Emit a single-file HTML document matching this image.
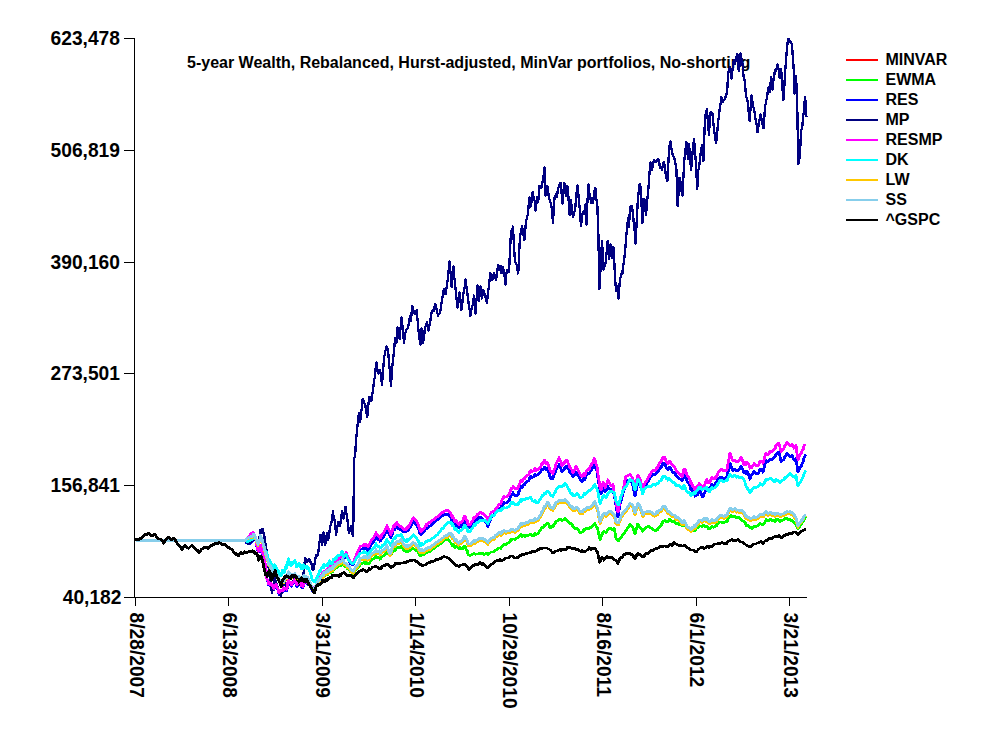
<!DOCTYPE html>
<html lang="en">
<head>
<meta charset="utf-8">
<title>5-year Wealth chart</title>
<style>
html,body{margin:0;padding:0;background:#fff;}
body{width:1000px;height:750px;overflow:hidden;}
svg{display:block;}
svg text{font-family:"Liberation Sans", Arial, Helvetica, sans-serif;font-weight:bold;fill:#000;}
.ax{stroke:#000;stroke-width:1;fill:none;shape-rendering:crispEdges;}
.ln{fill:none;stroke-width:2.8;stroke-linejoin:round;stroke-linecap:butt;shape-rendering:crispEdges;}
.lg{stroke-width:2;fill:none;shape-rendering:crispEdges;}
.yl{font-size:20px;text-anchor:end;}
.xl{font-size:20px;}
.lt{font-size:16px;}
.tt{font-size:16px;}
</style>
</head>
<body>
<svg width="1000" height="750" viewBox="0 0 1000 750">
<rect x="0" y="0" width="1000" height="750" fill="#ffffff"/>
<text class="tt" x="187" y="68">5-year Wealth, Rebalanced, Hurst-adjusted, MinVar portfolios, No-shorting</text>
<polyline class="ln" stroke="#ff0000" points="135.5,540.5 136,540.5 137,540.5 138,540.5 139,540.5 140,540.5 141,540.5 142,540.5 143,540.5 144,540.5 145,540.5 146,540.5 147,540.5 148,540.5 149,540.5 150,540.5 151,540.5 152,540.5 153,540.5 154,540.5 155,540.5 156,540.5 157,540.5 158,540.5 159,540.5 160,540.5 161,540.5 162,540.5 163,540.5 164,540.5 165,540.5 166,540.5 167,540.5 168,540.5 169,540.5 170,540.5 171,540.5 172,540.5 173,540.5 174,540.5 175,540.5 176,540.5 177,540.5 178,540.5 179,540.5 180,540.5 181,540.5 182,540.5 183,540.5 184,540.5 185,540.5 186,540.5 187,540.5 188,540.5 189,540.5 190,540.5 191,540.5 192,540.5 193,540.5 194,540.5 195,540.5 196,540.5 197,540.5 198,540.5 199,540.5 200,540.5 201,540.5 202,540.5 203,540.5 204,540.5 205,540.5 206,540.5 207,540.5 208,540.5 209,540.5 210,540.5 211,540.5 212,540.5 213,540.5 214,540.5 215,540.5 216,540.5 217,540.5 218,540.5 219,540.5 220,540.5 221,540.5 222,540.5 223,540.5 224,540.5 225,540.5 226,540.5 227,540.5 228,540.5 229,540.5 230,540.5 231,540.5 232,540.5 233,540.5 234,540.5 235,540.5 236,540.5 237,540.5 238,540.5 239,540.5 240,540.5 241,540.5 242,540.5 243,540.5 244,540.5 245,540.5 246,539.7 247,538.9 247.5,538.4 248,538.2 249,538.2 250,537.9 251,537.5 252,537.5 252.5,537.2 253,536.2 253.5,535.2 253.8,535.9 254,535.9 254.5,536.7 255,537.3 255.5,539 255.9,540.1 256,539.9 256.5,541.5 257,543.1 257.5,543.3 258,545.5 258.5,543.8 259,543.4 259.5,541.3 260,540.9 260.1,539.7 260.5,536.7 261,537.6 261.5,539.5 262,540.8 262.5,541.8 263,544 263.5,546.6 264,548.1 264.3,548.2 264.5,550.2 265,552 265.5,553.3 266,556.1 266.4,556.8 266.5,556.4 267,560.3 267.5,560 268,562.5 268.5,565.2 269,565.5 269.5,565.8 270,567.6 270.5,567.4 270.6,567.2 271,567.6 271.5,570 272,572.3 272.5,574.3 272.7,574.4 273,573.1 273.5,574.7 274,574.7 274.5,572.5 274.8,571.4 275,572.3 275.5,572.8 276,575.8 276.5,575.5 276.9,577.1 277,577.6 277.5,577.3 278,577.4 278.5,579.4 279,580.2 279.5,581.1 280,581.1 280.5,583.2 281,583.8 281.1,583.9 281.5,583.6 282,584.3 282.5,583.7 283,581.3 283.2,581 283.5,583.2 284,581.3 284.5,581.2 285,579.5 285.3,579.5 285.5,579.2 286,576.8 286.5,579.2 287,579.2 287.4,576.5 287.5,576 288,574.2 288.5,572.9 289,575.1 289.5,573.9 290,574.8 290.5,575.6 291,576.7 291.5,576.8 291.6,577.7 292,577.4 292.5,575.6 293,576.1 293.5,576.4 294,576.3 294.4,575.4 294.5,575.4 295,575 295.5,576.3 296,576.4 296.5,579 297,579.3 297.2,578.7 297.5,578.6 298,578 298.5,577.7 299,577.4 299.5,578 300,578.9 300.5,579.3 301,579.4 301.5,581 302,578.5 302.5,578.3 302.8,579.4 303,581.1 303.5,577.1 304,577 304.5,577.6 305,577.8 305.5,578 305.6,577.7 306,577.9 306.5,579 307,579.4 307.5,580.7 308,578.9 308.4,580.4 308.5,579.7 309,581.7 309.5,582 310,582.7 310.5,585.3 311,585.6 311.2,586.4 311.5,587.4 312,588.6 312.5,589.1 313,589.9 313.5,590.2 314,590.3 314.5,589.4 315,589 315.5,587.4 316,586.6 316.1,586.5 316.5,586.2 317,583.9 317.5,583.7 318,583.9 318.2,582.4 318.5,581.5 319,580.9 319.5,580 320,580.8 320.5,579.6 321,578.6 321.5,577.5 322,577.1 322.5,576.7 323,574.7 323.5,576.4 323.8,575.8 324,576.2 324.5,573.6 325,574.4 325.5,573.7 326,573.6 326.5,573.1 326.6,572.8 327,571.4 327.5,571.6 328,572.9 328.5,571.5 329,570.6 329.4,570.7 329.5,569.8 330,569.2 330.5,569.9 331,570.8 331.5,569.8 332,569 332.2,568.6 332.5,570 333,568.2 333.5,567.4 334,567.7 334.5,567.7 335,566.8 335.5,565.5 336,565.9 336.5,565.6 337,564.2 337.5,564.1 337.8,564 338,563.6 338.5,564 339,563.6 339.5,563.3 340,562.9 340.6,563 341,563.3 342,561.5 342.7,559.9 343,560.6 344,563.5 344.8,564.2 345,564.4 346,564.7 347,566 347.6,567 348,566.9 349,568 350,569.1 350.4,569.9 351,570.4 352,571.5 353,571.9 353.2,572.4 354,571.3 355,569.2 355.3,568.3 356,567.5 357,566.1 357.4,566.1 358,565.1 359,564.1 359.5,563.7 360,560 361,559.3 362,559.2 363,558.6 364,557.4 365,558.7 366,557.9 367,558.5 368,559.4 369,558.6 370,556.9 371,555.7 372,555.2 373,554.1 374,553.6 375,552.6 376,551 377,552.4 378,553.2 379,552.7 380,554.4 381,553.5 382,551.4 383,551.2 384,550.3 385,549.6 386,548.2 387,546.9 388,550.7 389,552.5 390,555.2 391,552.9 392,549.4 393,545.2 394,544.8 395,545.8 396,543.4 397,543 398,543.1 399,542.5 400,541.9 401,540.9 402,542.3 403,544.4 404,545.9 405,547.3 406,547.8 407,546.1 408,548.1 409,546.1 410,546.4 411,545.4 412,544.8 413,544 413.6,543.9 414,544.3 415,544.9 416,546.4 417,547 418,548.3 419,549.6 420,551.7 421,552.2 422,550.5 423,551.5 424,551.7 425,551.2 426,549.4 427,550.3 428,549.1 429,548.3 430,548.6 431,547.8 432,547.1 433,546.1 434,546 435,544.1 436,543.8 437,543.4 438,542.6 439,541.8 440,541.4 441,540.2 442,539.2 443,539.2 444,538.2 445,537.1 446,536.9 447,536.8 447.4,536.6 448,535.8 449,534.9 450,534.9 451,534.2 452,537.4 453,536.9 454,539.2 455,541.6 456,540.9 457,542 458,544.1 459,544.4 460,542.5 461,543 462,542.1 463,541 464,537.7 465,537.3 466,539.9 467,540.9 468,544.7 469,545.1 470,545.2 471,544.8 472,543.8 473,543.2 474,541.6 475,542.5 476,541.7 477,541.1 478,540.9 479,540 480,539.8 480.6,539.3 481,539.5 482,540.1 483,539.9 484,541 485,540.8 486,541.5 487,542.2 488,543.5 489,541.9 490,541.3 491,539.5 492,539.1 493,538.9 494,538.5 495,537 496,536.1 497,535.5 498,534.6 499,534 500,534.3 501,535 502,532.7 503,532.8 504,531.8 505,532.4 506,532.5 507,532.3 508,532.2 509,532.3 510,531.9 511,530.1 512,531.3 513,531 514,531.3 515,531.6 516,530.4 517,530.2 518,529.9 519,527.6 520,526.8 521,524.7 522,526.2 523,524.8 524,524.5 525,524.5 526,523.3 527,523.5 528,523.5 529,523.3 530,521.6 531,521.2 532,522.1 533,522.3 534,521.2 535,519.6 536,520.8 537,520.2 538,519.5 539,518.3 540,516.8 541,515.2 542,512.2 543,511.3 544,508.7 544.4,507.4 545,507.6 546,506.6 547,503.7 548,503.6 549,505.2 550,508 551,509.3 552,508.8 553,509.8 554,507 555,506.5 556,503.7 557,503.4 558,502.9 559,501.9 560,501.9 561,501.2 562,501.9 563,501.5 564,501.6 565,500.3 566,501.2 567,502.6 568,504.2 569,505 570,506.7 571,508 572,507.9 573,509.5 574,510 575,510.3 576,509 577,508.2 578,510 579,510.9 580,513.3 581,513.2 582,513 583,512.7 584,510.1 585,510.6 586,509.6 587,508.9 588,508.9 589,508.9 590,508.1 591,508.3 592,506.3 593,505.6 594,503.9 595,502.9 596,506.3 597,507.9 598,511.6 599,517.6 600,522.9 601,520.1 602,517.8 603,515.5 604,514.4 605,515 606,516.2 607,515 608,513.1 609,512.5 610,512.4 611,512.8 612,513.6 613,514.8 614,515.4 615,518.2 616,523 617,523.4 618,524.2 618.4,524.1 619,522.7 620,520.2 621,517.3 622,516 623,513.3 624,513.3 625,511.4 626,510.7 627,509.4 628,507.5 629,506.4 630,504.8 631,505.2 632,505.3 633,506.9 634,511 635,514.2 636,510.6 637,507.6 637.4,505.1 638,504.5 639,506.7 640,506.9 641,510.4 642,513.1 642.4,515.3 643,515.6 644,513.9 645,513.2 646,513.2 647,512.8 648,512.4 649,512.7 650,512.7 651,513.1 652,514 653,514.4 654,515.1 655,515.4 656,514.7 657,512.6 658,513.4 659,511.6 660,511.2 661,510.9 662,509.3 663,507.2 664,507.1 665,507.7 666,510.2 667,510.9 668,513 669,512.1 670,513.9 671,514.6 672,515.2 673,516.3 674,516.1 675,516.9 676,518.5 677,519.3 678,518.9 679,519.9 680,521.1 681,522 682,524.1 683,524.3 684,521.6 685,523.4 686,525.6 687,527.7 688,528.5 689,528.5 690,529.1 691,531.3 692,528.4 693,528.9 694,527 695,527.7 696,525.7 697,524.2 698,524.1 699,521.4 700,521.1 701,521.2 702,521.7 703,520.3 704,520 705,520.4 706,519.5 707,519.5 708,522.1 709,523.2 710,523.3 711,521 712,521 713,521.8 714,522 715,522 716,520.5 717,520.6 718,518.2 719,517.6 720,516.6 721,516.4 722,516.6 723,517.3 724,517.5 725,516.9 726,516.3 727,516.4 728,513.2 729,511.4 730,509.3 731,509.8 732,511 733,510.5 734,510.1 735,509.8 736,511.1 737,511.4 738,511.1 739,511.6 740,511.4 741,511.4 742,511.2 743,512.5 744,513.7 745,515.6 746,518.2 747,517.5 748,518.9 749,518.7 750,520.3 751,519.1 752,519.4 753,518.7 754,517.7 755,519.1 756,518.9 757,518.3 758,517.8 759,517.3 760,515.9 761,516.2 762,515.7 763,516.3 764,515.4 765,513.9 766,512.6 767,513.9 768,514.9 769,514.3 770,513.3 771,513.5 772,514.4 773,514.3 774,514.4 775,515.4 776,514.2 777,515.3 778,514.7 779,515.2 780,516 781,515.3 782,515.3 783,515.2 784,515.2 785,513.7 786,514.3 787,513 788,513.1 789,513.2 790,512.2 791,513.1 792,512.8 793,514 794,514.8 795,517.2 796,518.1 797,522.9 798,526.5 799,524.3 800,522.6 801,522.1 802,520.2 803,519.9 804,516.8 805,516.1 806,515.5"/>
<polyline class="ln" stroke="#00ff00" points="135.5,540.5 136,540.5 137,540.5 138,540.5 139,540.5 140,540.5 141,540.5 142,540.5 143,540.5 144,540.5 145,540.5 146,540.5 147,540.5 148,540.5 149,540.5 150,540.5 151,540.5 152,540.5 153,540.5 154,540.5 155,540.5 156,540.5 157,540.5 158,540.5 159,540.5 160,540.5 161,540.5 162,540.5 163,540.5 164,540.5 165,540.5 166,540.5 167,540.5 168,540.5 169,540.5 170,540.5 171,540.5 172,540.5 173,540.5 174,540.5 175,540.5 176,540.5 177,540.5 178,540.5 179,540.5 180,540.5 181,540.5 182,540.5 183,540.5 184,540.5 185,540.5 186,540.5 187,540.5 188,540.5 189,540.5 190,540.5 191,540.5 192,540.5 193,540.5 194,540.5 195,540.5 196,540.5 197,540.5 198,540.5 199,540.5 200,540.5 201,540.5 202,540.5 203,540.5 204,540.5 205,540.5 206,540.5 207,540.5 208,540.5 209,540.5 210,540.5 211,540.5 212,540.5 213,540.5 214,540.5 215,540.5 216,540.5 217,540.5 218,540.5 219,540.5 220,540.5 221,540.5 222,540.5 223,540.5 224,540.5 225,540.5 226,540.5 227,540.5 228,540.5 229,540.5 230,540.5 231,540.5 232,540.5 233,540.5 234,540.5 235,540.5 236,540.5 237,540.5 238,540.5 239,540.5 240,540.5 241,540.5 242,540.5 243,540.5 244,540.5 245,540.5 246,539.9 247,539.2 247.5,538.8 248,538.5 249,538.2 250,537.7 251,537 252,537 252.5,536.7 253,535.7 253.5,534.7 253.8,535.4 254,535.4 254.5,536.2 255,536.8 255.5,538.5 255.9,539.6 256,539.4 256.5,541 257,542.6 257.5,542.8 258,545 258.5,543.3 259,542.9 259.5,540.8 260,540.4 260.1,539.2 260.5,536.2 261,537.1 261.5,539 262,540.3 262.5,541.3 263,543.5 263.5,546.1 264,547.6 264.3,547.7 264.5,549.7 265,551.5 265.5,552.8 266,555.6 266.4,556.3 266.5,555.9 267,559.8 267.5,559.5 268,562 268.5,564.7 269,565 269.5,565.3 270,567.1 270.5,566.9 270.6,566.7 271,567.1 271.5,569.5 272,571.8 272.5,573.8 272.7,573.9 273,572.6 273.5,574.2 274,574.2 274.5,572 274.8,570.9 275,571.8 275.5,572.3 276,575.4 276.5,575 276.9,576.6 277,577.1 277.5,576.8 278,576.9 278.5,578.9 279,579.7 279.5,580.6 280,580.6 280.5,582.7 281,583.3 281.1,583.4 281.5,583.1 282,583.8 282.5,583.2 283,580.8 283.2,580.5 283.5,582.7 284,580.8 284.5,580.7 285,579 285.3,579 285.5,578.7 286,576.3 286.5,578.7 287,578.7 287.4,576 287.5,575.5 288,573.7 288.5,572.4 289,574.6 289.5,573.4 290,574.3 290.5,575.1 291,576.2 291.5,576.3 291.6,577.2 292,576.9 292.5,575.1 293,575.6 293.5,575.9 294,575.8 294.4,574.9 294.5,574.9 295,574.5 295.5,575.8 296,575.9 296.5,578.5 297,578.8 297.2,578.2 297.5,578.1 298,577.5 298.5,577.2 299,576.9 299.5,577.5 300,578.4 300.5,578.8 301,578.9 301.5,580.5 302,578 302.5,577.8 302.8,578.9 303,580.6 303.5,576.6 304,576.5 304.5,577.1 305,577.3 305.5,577.5 305.6,577.2 306,577.4 306.5,578.5 307,578.9 307.5,580.2 308,578.3 308.4,579.9 308.5,579.2 309,581.2 309.5,581.5 310,582.2 310.5,584.8 311,585.1 311.2,585.9 311.5,586.9 312,588.1 312.5,588.6 313,589.5 313.5,589.7 314,589.8 314.5,589 315,588.7 315.5,587.2 316,586.5 316.1,586.4 316.5,586.2 317,584 317.5,583.8 318,584.1 318.2,582.6 318.5,581.7 319,581.2 319.5,580.3 320,581.1 320.5,580 321,579.1 321.5,578 322,577.7 322.5,577.4 323,575.5 323.5,577.2 323.8,576.7 324,577.1 324.5,574.6 325,575.5 325.5,574.8 326,574.8 326.5,574.4 326.6,574.1 327,572.7 327.5,573 328,574.3 328.5,573.1 329,572.2 329.4,572.3 329.5,571.4 330,570.9 330.5,571.5 331,572.4 331.5,571.4 332,570.6 332.2,570.2 332.5,571.6 333,569.9 333.5,569.1 334,569.5 334.5,569.5 335,568.7 335.5,567.5 336,567.9 336.5,567.7 337,566.4 337.5,566.4 337.8,566.3 338,565.9 338.5,566.3 339,565.9 339.5,565.6 340,565.2 340.6,565.3 341,565.7 342,564.2 342.7,562.9 343,563.5 344,566.1 344.8,566.5 345,566.7 346,566.8 347,568 347.6,568.9 348,568.7 349,569.8 350,570.8 350.4,571.5 351,571.8 352,572.7 353,572.8 353.2,573.3 354,572.5 355,570.7 355.3,569.9 356,569.4 357,568.3 357.4,568.3 358,567.5 359,566.6 359.5,566.3 360,563.8 361,563.4 362,563.4 363,563.1 364,562.2 365,563.5 366,562.7 367,563.3 368,564.1 369,563.4 370,561.8 371,560.5 372,560 373,558.9 374,558.4 375,557.4 376,555.8 377,557.2 378,557.9 379,557.6 380,559.2 381,558.3 382,556.2 383,556 384,555.1 385,554.4 386,553 387,551.7 388,554.1 389,554.6 390,556 391,555 392,552.8 393,550 394,549.6 395,550.6 396,548.2 397,547.8 398,548.1 399,547.8 400,547.4 401,546.7 402,547.6 403,549.2 404,550.2 405,551.1 406,551.5 407,549.9 408,551.9 409,549.9 410,550.4 411,549.6 412,549.2 413,548.7 413.6,548.7 414,549 415,549.3 416,550.5 417,550.8 418,552.1 419,553.4 420,555.5 421,556 422,554.1 423,554.8 424,554.7 425,554 426,552.3 427,553.1 428,551.9 429,551.1 430,551.3 431,550.5 432,549.9 433,548.9 434,548.8 435,546.9 436,546.6 437,546.2 438,545.4 439,544.6 440,544.2 441,543 442,542.1 443,542 444,541 445,539.9 446,539.8 447,539.6 447.4,539.4 448,539.6 449,540.3 450,542 451,543 452,545.4 453,544.4 454,546 455,547.6 456,546.2 457,546.6 458,547.9 459,549 460,547.8 461,549 462,548.9 463,548.4 464,545.9 465,546.1 466,548.9 467,550.2 468,554.2 469,554.9 470,555.2 471,555.1 472,554.3 473,554 474,553 475,554.2 476,554 477,553.9 478,553.9 479,553.4 480,553.4 480.6,553.1 481,553.3 482,553.9 483,553.8 484,554.8 485,554 486,553.8 487,553.7 488,554.3 489,553.2 490,553.1 491,551.9 492,551.9 493,551.9 494,551.7 495,550.5 496,549.9 497,549.3 498,548.5 499,547.9 500,548.1 501,548.4 502,546 503,545.9 504,544.6 505,544.7 506,544.3 507,543.6 508,543 509,542.5 510,541.5 511,539.2 512,539.7 513,538.9 514,539.1 515,539.3 516,538.2 517,538 518,538.1 519,536.4 520,536.1 521,534.5 522,536.4 523,535.6 524,535.8 525,536.3 526,535.2 527,535.4 528,535.3 529,535.1 530,534 531,534.1 532,535.4 533,536.1 534,535.1 535,533.5 536,534.6 537,534 538,533.3 539,532 540,530.6 541,529 542,527.2 543,527.4 544,526 544.4,525.2 545,525.6 546,525.2 547,523 548,523.4 549,525.1 550,527.8 551,528 552,526.6 553,526.5 554,524.2 555,523.8 556,521.5 557,521.2 558,520.6 559,519.8 560,520.1 561,519.7 562,520.6 563,519.9 564,519.7 565,518 566,519 567,520.4 568,522 569,522.2 570,523.2 571,523.8 572,524.4 573,526.7 574,527.9 575,528.7 576,528.1 577,528 578,529.8 579,530.8 580,533.1 581,532.6 582,532.2 583,531.5 584,529.2 585,529.5 586,528.4 587,528.1 588,528.4 589,528.6 590,527.8 591,527.9 592,526.1 593,525.7 594,524.4 595,523.7 596,526.4 597,527.4 598,530.3 599,535.3 600,539.6 601,536.9 602,534.6 603,532.3 604,531.3 605,531.9 606,533 607,531.4 608,529.2 609,528.3 610,528.2 611,528.6 612,529.3 613,529.1 614,528.2 615,532.6 616,538.8 617,539.6 618,540.8 618.4,540.9 619,540.2 620,538.8 621,537.1 622,536.1 623,533.9 624,534.1 625,531.9 626,530.9 627,529.2 628,527.3 629,526.1 630,524.5 631,525.3 632,525.9 633,527.7 634,531.2 635,534 636,529.9 637,526.5 637.4,523.9 638,523.9 639,526.7 640,527.7 641,529.1 642,529.8 642.4,531.1 643,531.1 644,529.1 645,528 646,527.7 647,526.9 648,526.2 649,526.8 650,527.2 651,527.9 652,528.8 653,529.2 654,529.9 655,530.8 656,530.7 657,529.4 658,529.4 659,527.1 660,526 661,525.4 662,523.5 663,521.4 664,520.9 665,520.6 666,521.9 667,521.8 668,522.1 669,519.6 670,519.7 671,520.4 672,521 673,522.1 674,521.6 675,522 676,523.3 677,524.1 678,523.7 679,524.7 680,524.9 681,524.8 682,525.9 683,526.1 684,523.4 685,525.2 686,527.1 687,528.8 688,529.3 689,529.3 690,529.9 691,532.1 692,529.8 693,531 694,529.8 695,530.5 696,528.5 697,527 698,527.6 699,525.6 700,525.9 701,526 702,526.5 703,525.1 704,525.4 705,526.5 706,526.3 707,526 708,528.2 709,529 710,529.1 711,526.9 712,526.8 713,527.2 714,527.1 715,526.8 716,525.4 717,525.4 718,523 719,522.7 720,521.9 721,522 722,522.4 723,522.8 724,522.8 725,522 726,521.1 727,521.7 728,519 729,517.8 730,516.6 731,515.1 732,516.8 733,516.9 734,516.8 735,516.3 736,517.4 737,517.9 738,517.6 739,517.2 740,518.8 741,519.6 742,520.2 743,520.9 744,521.5 745,522.3 746,525.4 747,525.1 748,525.8 749,526.3 750,528.1 751,527.4 752,528.2 753,527.2 754,525.9 755,526.9 756,526.7 757,526.1 758,525.6 759,525.1 760,523.7 761,524 762,524 763,525.1 764,523.7 765,521.7 766,519.8 767,520.4 768,520.7 769,520.2 770,519.2 771,519.3 772,520.5 773,520.8 774,521.2 775,521.5 776,519.6 777,520.1 778,519.8 779,520.7 780,521.8 781,520.8 782,520.4 783,520 784,519.9 785,518.5 786,519.1 787,518.5 788,519.3 789,520 790,519.2 791,520.3 792,520.2 793,521.4 794,522.2 795,523.6 796,523.5 797,526.8 798,528.9 799,527.3 800,526 801,525 802,522.6 803,522.2 804,519.2 805,518 806,516.9"/>
<polyline class="ln" stroke="#0000ff" points="135.5,540.5 136,540.5 137,540.5 138,540.5 139,540.5 140,540.5 141,540.5 142,540.5 143,540.5 144,540.5 145,540.5 146,540.5 147,540.5 148,540.5 149,540.5 150,540.5 151,540.5 152,540.5 153,540.5 154,540.5 155,540.5 156,540.5 157,540.5 158,540.5 159,540.5 160,540.5 161,540.5 162,540.5 163,540.5 164,540.5 165,540.5 166,540.5 167,540.5 168,540.5 169,540.5 170,540.5 171,540.5 172,540.5 173,540.5 174,540.5 175,540.5 176,540.5 177,540.5 178,540.5 179,540.5 180,540.5 181,540.5 182,540.5 183,540.5 184,540.5 185,540.5 186,540.5 187,540.5 188,540.5 189,540.5 190,540.5 191,540.5 192,540.5 193,540.5 194,540.5 195,540.5 196,540.5 197,540.5 198,540.5 199,540.5 200,540.5 201,540.5 202,540.5 203,540.5 204,540.5 205,540.5 206,540.5 207,540.5 208,540.5 209,540.5 210,540.5 211,540.5 212,540.5 213,540.5 214,540.5 215,540.5 216,540.5 217,540.5 218,540.5 219,540.5 220,540.5 221,540.5 222,540.5 223,540.5 224,540.5 225,540.5 226,540.5 227,540.5 228,540.5 229,540.5 230,540.5 231,540.5 232,540.5 233,540.5 234,540.5 235,540.5 236,540.5 237,540.5 238,540.5 239,540.5 240,540.5 241,540.5 242,540.5 243,540.5 244,540.5 245,540.5 246,541.9 246.8,543.1 247,543.1 248,543.2 249,543.6 249.6,543.8 250,543.3 251,541.9 252,541.4 252.4,540.7 252.5,540.9 253,539.8 253.5,538.7 254,538.7 254.5,538.2 255,537.4 255.2,538 255.5,539.3 256,541.6 256.5,544.4 257,547.4 257.3,548.2 257.5,548.3 258,551.5 258.5,550.4 259,551.9 259.4,551.4 259.5,551.5 260,551.4 260.5,546.6 261,546.1 261.5,546.8 262,549.3 262.5,553.5 263,553.5 263.5,555.8 263.6,554.8 264,558 264.5,561.1 265,563.5 265.5,565.5 265.7,566.6 266,570.2 266.5,573.5 267,580.4 267.1,580.9 267.5,580.3 268,581.7 268.5,584.5 269,583.6 269.2,583.5 269.5,583.8 270,585.3 270.5,585.1 271,584.5 271.3,585.4 271.5,585.7 272,586.9 272.5,587.9 273,587.2 273.4,588.8 273.5,589.6 274,589.7 274.5,587.9 275,587.1 275.5,585.9 276,586.9 276.2,585.9 276.5,586.1 277,588.4 277.5,589 278,590.1 278.5,592.7 279,594.3 279.5,593.8 280,592.3 280.5,592.9 281,592 281.5,591.6 281.8,591.6 282,592.3 282.5,591.9 283,589.9 283.5,591.5 283.9,589.2 284,589.8 284.5,590.5 285,589.7 285.5,590.4 286,590.3 286.5,590.6 287,589.7 287.5,585.9 288,583.3 288.5,581.3 288.8,582.8 289,583.3 289.5,583.3 290,584.2 290.5,584.8 291,585.7 291.5,585.5 291.6,586.3 292,585.6 292.5,583.5 293,583.4 293.5,583.1 294,582.5 294.4,581.2 294.5,581.3 295,581.2 295.5,582.7 296,583.1 296.5,585.7 297,586.3 297.2,585.9 297.5,585.6 298,584.6 298.5,583.9 299,583.3 299.5,583.5 300,584 300.5,584.8 301,585.2 301.5,587.1 302,585.1 302.5,585.3 302.8,586.5 303,587.9 303.5,583.7 304,583.1 304.5,583.2 305,582.8 305.5,582.5 305.6,582.1 306,582.1 306.5,582.9 307,583.1 307.5,584.2 308,582.1 308.4,583.4 308.5,582.7 309,584.4 309.5,584.5 310,585 310.5,587.3 311,587.3 311.2,588 311.5,589 312,590.1 312.5,590.5 313,591.2 313.3,591.1 313.5,590.9 314,589.1 314.5,589.4 315,589.5 315.4,588.8 315.5,588.2 316,586.9 316.5,586.2 317,583.5 317.5,582.7 318,583.5 318.5,581.1 319,580.3 319.5,579.2 319.6,579.1 320,579.9 320.5,578.7 321,578.4 321.5,576.5 322,576 322.4,575.6 322.5,575.5 323,573.5 323.5,575.2 324,575 324.5,572.4 325,573.2 325.2,572.9 325.5,572.5 326,572.6 326.5,572.2 327,570.4 327.5,570.5 328,571.1 328.5,570 329,568.6 329.5,567.5 330,566.8 330.5,567.3 330.8,567.7 331,568.2 331.5,567.3 332,566.6 332.5,567.5 333,565.5 333.5,564.4 333.6,564.5 334,564.7 334.5,564.7 335,563.5 335.5,562.8 336,563.4 336.4,563.3 336.5,563.3 337,561.9 337.5,561.8 338,561.2 338.5,561.3 339,560.7 339.2,560.5 339.5,560.1 340,559.3 341,559.3 342,557.3 343,557.4 344,558.7 344.1,558.2 345,556.6 346,554.5 346.2,554.7 347,556.7 348,559.2 348.3,560.1 349,561.2 350,562.8 350.4,563.8 351,564 352,564.6 353,564.4 353.2,564.9 354,563.3 355,560.5 355.3,559.4 356,557.7 357,554.9 357.4,554.4 358,553 359,551.3 359.5,550.6 360,549.8 361,549.1 362,549 363,548.4 364,547.3 365,548.8 366,548.2 367,549 368,550.2 369,549 370,546.7 371,544.9 372,544 373,542.2 374,541 375,539.2 376,536.7 377,538.5 378,539.5 379,539.2 380,541.2 381,540.4 382,538.1 383,538 384,536.2 385,534.5 386,532 387,529.7 388,532.6 389,533.5 390,535.4 391,537.5 392,534.9 393,531.1 394,528 395,529.5 396,527 397,526.8 398,528.2 399,528.8 400,529.4 401,529.7 402,530 403,531.2 404,531.8 405,532.2 406,531.9 407,529.4 408,530.9 409,527.9 410,527.4 411,525.5 412,523.9 413,522.3 413.6,521.7 414,522.2 415,523 416,524.9 417,525.7 418,528 419,530.3 420,533.6 421,535 422,532.1 423,532.3 424,531.5 425,530 426,527.8 427,528.7 428,527.2 429,526.2 430,526.2 431,525.1 432,524.2 433,522.9 434,522.9 435,520.8 436,520.6 437,520.2 438,519.2 439,518.1 440,517.5 441,516 442,515.3 443,515.7 444,515 445,514.1 446,514.3 447,514.6 447.4,514.4 448,514.6 449,515.3 450,517 451,517.9 452,521.3 453,520.7 454,523 455,525.3 456,524.1 457,525 458,526.9 459,527.6 460,525.7 461,526.5 462,525.9 463,524.5 464,520.7 465,520.1 466,522.8 467,523.6 468,527.7 469,527.9 470,527.6 471,526.7 472,525.1 473,524 474,521.5 475,521.8 476,520.3 477,518.8 478,518.7 479,517.8 480,517.7 480.6,517.1 481,517.6 482,518.8 483,519.1 484,520.7 485,521.3 486,522.7 487,524.1 488,526.4 489,523.2 490,521.1 491,517.7 492,515.8 493,515.5 494,514.9 495,513.1 496,511.9 497,510.8 498,509.3 499,508.2 500,508.1 501,508.2 502,504.9 503,504.4 504,502.5 505,503 506,502.9 507,502.3 508,502.1 509,500.5 510,498.5 511,494.8 512,494.7 513,492.8 514,494.2 515,495.5 516,495.2 517,496.1 518,494.9 519,491.4 520,489.7 521,486.3 522,487.8 523,485.7 524,484.8 525,484.3 526,482.2 527,481.8 528,481 529,480.1 530,477.5 531,476.6 532,477.3 533,477.2 534,475.9 535,473.9 536,475.6 537,475 538,474.8 539,473.7 540,472.4 541,471 542,469 543,469.7 544,468.2 544.4,467.3 545,468.8 546,469.8 547,468.4 548,470.5 549,473 550,476.7 551,478.3 552,477.6 553,478.6 554,474.8 555,473.5 556,469.6 557,468.3 558,466.7 559,464.7 560,467.1 561,468.6 562,471.8 563,470.4 564,469.6 565,467.1 566,466.1 567,465.9 568,468.5 569,470 570,472.9 571,473.6 572,474.5 573,477 574,474.9 575,474.6 576,472.1 577,473.6 578,475.5 579,476.7 580,478.9 581,480.3 582,481.9 583,479.8 584,478.2 585,479.7 586,475.8 587,474.6 588,473 589,474.1 590,471.7 591,470.7 592,468.9 593,467.5 594,465.2 594.4,464.5 595,465.5 596,469.2 597,470.7 598,478.6 599,484.4 600,491 601,494.1 602,491.3 603,488.4 604,488.7 605,491.6 606,490.3 607,488.8 608,486.8 609,488.8 610,488.9 611,490 612,490.1 613,488.3 614,494.6 615,499.6 616,505.1 617,511.1 618,517.1 619,510.6 620,504.1 621,500.9 622,497.5 623,493.5 624,490.2 625,485.5 626,482.1 627,481.9 628,480.5 629,480.3 630,479.6 631,481.3 632,482.7 633,485.6 634,491.3 635,496 636,491.1 637,487 637.4,483.9 638,482.7 639,484.3 640,483.6 641,488 642,491.5 642.4,494.1 643,493.3 644,489.6 645,487 646,485.4 647,483.3 648,481.3 649,479.9 650,478.1 651,476.9 652,476.1 653,474.8 654,473.9 655,474.5 656,473.9 657,471.6 658,471.9 659,469.1 660,468 661,467.6 662,465.6 663,463 664,462.9 665,464 666,467.4 667,468.7 668,469.6 669,467 670,467.6 671,469.3 672,470.9 673,473.1 674,472.7 675,473.5 676,475.4 677,476.9 678,476.8 679,478.6 680,479.1 681,479.2 682,480.9 683,479.5 684,474.5 685,475.3 686,478.3 687,481.1 688,482.4 689,483.8 690,486 691,490.1 692,489.5 693,493.1 694,493.8 695,496.2 696,495.3 697,495 698,494.4 699,490.8 700,489.9 701,492.7 702,496 703,497.1 704,494.1 705,492.1 706,488.4 707,487.4 708,489.6 709,490 710,489.3 711,485.7 712,484.8 713,485.3 714,485.2 715,484.8 716,482.6 717,482.4 718,479 719,478.4 720,477.2 721,477.2 722,477.5 723,478.4 724,478.6 725,477.9 726,477.2 727,476.6 728,472 729,467.7 730,463.1 731,465.6 732,469.1 733,470.3 734,469.8 735,469.4 736,470.9 737,470.8 738,470 739,470.2 740,467.9 741,466 742,468.2 743,470.2 744,472.6 745,470.9 746,473.6 747,471.6 748,473.5 749,475.5 750,479.2 751,475.7 752,474.3 753,473 754,471.4 755,472.8 756,473.4 757,473.4 758,473.5 759,472 760,469.4 761,469 762,469.8 763,472.2 764,468.2 765,463.6 766,460.8 767,461.4 768,461.6 769,460.8 770,459.3 771,459.4 772,459.4 773,458.3 774,457.3 775,457.2 776,454 777,454.2 778,452.3 779,452.7 780,456.7 781,461.7 782,460.6 783,459.9 784,459.2 785,456.2 786,456 787,453.5 788,454.5 789,455.8 790,456.6 791,456.4 792,455.3 793,458.1 794,460.2 795,460.3 796,458.3 797,465.9 798,471.9 799,469.7 800,468 801,466.9 802,463.7 803,462.4 804,457.3 805,456 806,454.9"/>
<polyline class="ln" stroke="#000080" style="stroke-width:2.3" points="135.5,540.5 136,540.5 137,540.5 138,540.5 139,540.5 140,540.5 141,540.5 142,540.5 143,540.5 144,540.5 145,540.5 146,540.5 147,540.5 148,540.5 149,540.5 150,540.5 151,540.5 152,540.5 153,540.5 154,540.5 155,540.5 156,540.5 157,540.5 158,540.5 159,540.5 160,540.5 161,540.5 162,540.5 163,540.5 164,540.5 165,540.5 166,540.5 167,540.5 168,540.5 169,540.5 170,540.5 171,540.5 172,540.5 173,540.5 174,540.5 175,540.5 176,540.5 177,540.5 178,540.5 179,540.5 180,540.5 181,540.5 182,540.5 183,540.5 184,540.5 185,540.5 186,540.5 187,540.5 188,540.5 189,540.5 190,540.5 191,540.5 192,540.5 193,540.5 194,540.5 195,540.5 196,540.5 197,540.5 198,540.5 199,540.5 200,540.5 201,540.5 202,540.5 203,540.5 204,540.5 205,540.5 206,540.5 207,540.5 208,540.5 209,540.5 210,540.5 211,540.5 212,540.5 213,540.5 214,540.5 215,540.5 216,540.5 217,540.5 218,540.5 219,540.5 220,540.5 221,540.5 222,540.5 223,540.5 224,540.5 225,540.5 226,540.5 227,540.5 228,540.5 229,540.5 230,540.5 231,540.5 232,540.5 233,540.5 234,540.5 235,540.5 236,540.5 237,540.5 238,540.5 239,540.5 240,540.5 241,540.5 242,540.5 243,540.5 244,540.5 245,540.5 246,541.9 246.8,543.1 247,543.1 248,543.6 249,543.4 249.6,543.5 250,543.2 251,542.3 252,540.5 252.4,540.2 252.5,539.6 253,539 253.5,539 254,539.9 254.5,538.8 255,537.7 255.2,537.7 255.5,536.9 256,539 256.5,540.2 257,540.1 257.3,541.4 257.5,540.1 258,540.4 258.5,541.3 259,540.8 259.4,539.5 259.5,538.5 260,531.2 260.1,530 260.5,530.3 261,529.8 261.5,532.8 262,528.8 262.5,528.8 263,532.4 263.5,532.6 264,536.2 264.3,535.3 264.5,537.3 265,541 265.5,544.2 265.7,546.1 266,546.3 266.5,549.9 267,557.5 267.1,556.9 267.5,560.3 268,563.5 268.5,566.4 269,571.5 269.5,576.3 269.9,578.5 270,579.3 270.5,582.5 271,587 271.5,589.6 272,592.6 272.5,589.8 273,587 273.5,585.4 273.7,584.1 274,582.2 274.5,579.5 275,578 275.1,578.1 275.5,581 276,581.6 276.5,583.1 276.9,584 277,584.4 277.5,586.3 278,588.7 278.5,591 279,590.6 279.5,593.6 280,594.6 280.5,595.8 280.7,596.5 281,597.2 281.5,593.2 282,592.1 282.1,590.4 282.5,590 283,586.4 283.5,585.6 283.9,584.3 284,585 284.5,585 285,583.2 285.5,585 286,586.6 286.5,584.8 287,586.6 287.5,584.8 288,583.5 288.5,582.6 288.8,582.2 289,581.8 289.5,581.8 290,582.9 290.5,583.7 291,583.3 291.5,583.7 291.6,583.9 292,581.9 292.5,582.7 293,581.1 293.5,581.1 294,579.5 294.4,579.5 294.5,579.1 295,580.6 295.5,580.2 296,584.3 296.5,583.6 297,583.9 297.2,584.1 297.5,583.2 298,585 298.5,585.2 299,584.1 299.5,581.8 300,582.3 300.5,582.6 301,581.7 301.5,580.7 302,580.1 302.5,580.1 302.8,581 303,578.7 303.5,573.3 303.9,569.9 304,568.5 304.5,565 304.9,558.2 305,560.2 305.5,558.5 306,560.2 306.5,561.3 306.7,561.7 307,561.2 307.5,561.7 308,560 308.4,559.4 308.5,559.2 309,559.4 309.5,560 310,561.8 310.5,561.4 311,562 311.5,564.1 312,565.9 312.5,569.3 312.6,569.5 313,569.5 313.5,569.8 314,568.7 314.5,563.3 315,561.4 315.5,558.3 315.7,556.8 316,557.1 316.5,555 317,555.6 317.5,554.7 317.9,554.9 318,553.5 318.5,550.6 319,547.1 319.5,541.9 319.6,541.7 320,538.2 320.5,534.9 320.7,536.3 321,537.4 321.5,542.4 322,544.4 322.1,544.9 322.5,538.5 323,534.4 323.4,532.4 323.5,533 324,538.5 324.5,542 325,544.5 325.2,545.2 325.5,543.5 326,538.7 326.5,535.6 327,533 327.5,534.7 328,538.1 328.3,539.7 328.5,537.7 329,534.4 329.5,531.9 330,527.6 330.1,525.8 330.5,525.6 331,523.9 331.5,522.4 332,518.3 332.5,515.5 332.9,511.5 333,511.3 333.5,516 334,517.5 334.5,520.4 334.7,521.2 335,523.6 335.5,527.2 336,534.9 336.1,534.9 336.5,531.3 337,529.6 337.5,525.7 338,523.2 338.1,522.5 338.5,522 339,522.4 339.5,524.1 340,525.9 340.3,524.1 341,518.8 342,511.1 343,515 343.7,518.6 344,517.1 345,510.9 345.5,506.7 346,510.4 347,516.7 347.3,518.7 348,525.2 349,533.2 350,528.6 351,526.7 351.1,525.9 352,531.2 352.9,536.2 353,535.4 353.2,536.3 354,467.3 354.1,458.7 355,456.4 355.1,456.3 356,440.2 357,431.7 357.2,428.9 358,420.9 358.8,413.3 359,414.7 360,420 360.2,422 361,413.3 362,406.1 362.5,399.3 363,398.9 364,401.8 365,404.7 365.3,404.8 366,409.9 367,416.3 367.2,417 368,409.1 369,398.8 369.1,397.2 370,396.7 371,400.8 371.4,401 372,396.1 373,389.7 374,381 375,376.1 376,364.9 376.4,362.3 377,366.8 378,372.4 378.4,373.7 379,372.7 380,370.5 381,375.4 382,384.9 383,371.9 384,358.2 385,353 386,348.3 386.4,346.5 387,348.6 388,349.1 389,362.2 390,372.8 391,385.7 392,369.4 393,359.3 394,352 395,338.5 396,339.6 396.4,342.6 397,333.5 397.6,327.6 398,329.4 399,336.5 399.6,339.2 400,333.2 401,324.3 401.6,317.2 402,321.8 403,331.7 404,342.6 405,334.2 406,330.9 407,328.7 408,327.7 409,322 410,316.2 411,321 412,308.4 412.4,305.8 413,309.6 414,311.7 415,314.1 416,311.6 416.6,309.9 417,314.8 418,323.6 418.4,329.5 419,335.3 420,341.7 420.4,344.5 421,337.5 421.6,328.4 422,330.7 423,343.4 424,337.5 425,326.7 426,325.9 427,322.4 428,328.3 428.4,330.6 429,325.2 430,324.6 431,314.4 432,311.7 433,309.9 433.6,311.3 434,309.3 435,304.2 435.4,304.4 436,306.8 437,311 438,315.6 439,313.7 440,312.9 441,306.7 442,299.7 443,293.8 444,288.6 445,292.3 445.6,294.3 446,292.1 447,284.5 448,278.6 449,265.5 449.6,261.6 450,267 451,277.4 451.6,287.1 452,282.2 453,268.6 453.4,266.3 454,275.8 455,282.7 455.4,287.1 456,294.4 457,302.1 457.4,307.6 458,304.9 459,294.6 459.6,292.6 460,297.2 461,306.3 461.4,310 462,306.8 463,295.4 463.6,292.4 464,291.1 465,284.8 465.4,279.3 466,283 467,290.9 468,298.2 469,306.7 470,312.1 470.4,316.3 471,311.2 472,307.1 472.4,305.5 473,304.3 474,295.5 475,307.7 475.4,313.7 476,304.2 477,295.4 477.4,285.5 478,291.7 479,300.6 480,289.4 480.4,286.3 481,291.2 482,298.5 483,291.5 483.4,289.8 484,292.3 485,295.6 486,298.6 487,303.4 488,291.5 488.4,290.2 489,284.9 490,276.1 490.4,272.8 491,276.1 492,278.1 492.4,279.8 493,276.3 494,273.4 495,276.3 496,279.7 497,274.8 498,265.3 499,266.1 500,269.7 501,266.2 501.6,273.3 502,273.4 503,267.1 504,271.9 505,279.3 505.4,284.5 506,275.7 507,269.9 508,271.1 509,272.4 510,251.5 511,231.5 512,230.6 513,226.5 514,246.9 515,261.7 516,263.3 517,266.2 518,273.5 518.4,270.6 519,256.6 520,236.3 521,231.4 521.4,229.3 522,226.3 523,230.7 524,238.8 524.4,240 525,233.2 526,221.1 527,217.5 527.6,215.3 528,214.3 529,200.6 529.6,197.2 530,198.9 531,206.5 532,196.2 532.6,191.8 533,198.6 534,196.7 534.4,199.9 535,203.2 535.6,210.4 536,207.8 537,197.4 538,202.4 539,196.1 539.4,185.9 540,186.4 541,188.1 542,186 543,178.1 544,173.5 544.4,167.4 545,181.3 545.6,195.5 546,191.8 547,185.7 547.4,185.8 548,190.6 549,198.1 550,201.2 551,203.5 552,210 553,222.9 554,204 554.4,197.6 555,199 556,193.6 556.6,194 557,197.3 558,188.3 558.6,187.3 559,186 560,183.3 561,182.8 562,199.8 562.4,203.7 563,197.3 564,185.3 564.4,182.8 565,189.2 566,195.8 567,185.7 567.4,185.9 568,190.5 569,206.5 569.6,214.9 570,208.4 571,200 572,210.9 573,217.3 574,213 575,210.1 576,200.1 577,188.5 577.4,185.4 578,188.4 579,202.7 579.4,204.8 580,212.7 581,226.4 582,217.9 582.4,214.1 583,212.4 584,214.3 585,207.8 585.6,204.3 586,216.4 586.4,224.4 587,210.2 588,191 588.4,184.4 589,192.6 590,194.4 591,203 592,203 593,202.8 594,194.5 595,188.5 595.4,187.9 596,196.5 597,204 597.4,206.8 598,224.9 598.4,235.2 599,270 599.4,289.3 600,279.7 601,259.4 602,241.3 603,256.3 603.6,269.7 604,269.3 605,262.7 605.4,263.9 606,258.9 607,248.3 607.6,240.9 608,244.9 609,258.8 610,253.3 610.4,244.3 611,250 612,257.7 613,249.3 613.4,246.7 614,254.6 615,277.5 616,289.7 616.4,291.2 617,290.9 618,286 618.6,298.8 619,291.5 620,278.8 621,277 622,271.1 622.4,273.4 623,266.4 624,261 624.4,257.7 625,251.6 626,240.1 626.4,234.6 627,229 628,218 629,227.4 630,207.5 631,205.8 632,205.8 633,214.7 633.6,221 634,226 635,233.8 635.6,243.6 636,235.6 637,215 638,197.7 639,189.8 639.6,183.8 640,185.1 641,187.6 642,216.1 642.4,223.3 643,214.8 644,203.9 644.4,199 645,203.9 646,215.5 647,203.6 648,191.6 648.4,188.6 649,180 650,167.4 650.4,162.3 651,164.6 652,169.9 653,164.7 654,159.8 655,162.3 656,161.7 657,160.7 658,159.3 659,160.2 660,168.3 661,166.9 662,169.6 663,164.4 664,161.7 665,168.4 666,176.1 667,180.7 667.6,180.5 668,170.8 669,150.2 670,142.9 670.6,141.3 671,145.7 672,152.3 672.4,154.5 673,154.2 674,158.5 674.4,158.2 675,161.1 676,166.4 676.4,169.7 677,186.3 677.6,206.2 678,201.5 679,186.1 679.4,177.7 680,179.1 681,185.5 682,194.5 682.4,195.4 683,186.2 684,164.9 684.4,159.1 685,155.7 686,143.9 686.4,142.2 687,145.9 688,159.4 689,144.2 690,154.7 691,169.8 692,161.3 692.4,153.8 693,148.3 694,138.6 695,151.1 696,164.7 697,185.5 697.2,189.3 698,176.3 698.4,169.5 699,168.3 700,159.6 701,150.2 702,144.8 703,153.2 703.4,160.8 704,146.3 705,116.9 706,113.1 707,109 708,124.4 709,134.7 710,117.3 710.4,112.8 711,111.9 712,114.1 712.4,113 713,119.2 714,129.9 715,135.8 716,143.2 717,135.4 718,123.2 719,115.3 720,106.6 721,101.6 721.4,97.1 722,98.5 723,101.6 724,99.6 725,99.5 726,93.8 727,94.3 728,75.6 728.4,72.2 729,69.1 730,67.3 731,74.3 731.6,78.7 732,74.1 733,64.8 734,59.7 735,63.9 736,59.2 737,53.9 737.4,53.9 738,66.2 739,71.3 740,59.2 740.4,53.4 741,55.5 742,63.5 742.4,63.3 743,70 743.6,77.2 744,76.6 745,83.2 746,96.3 746.4,97.6 747,99.2 748,103.1 749,115.6 749.6,121 750,115.1 751,102.9 751.6,95.4 752,98.4 753,106.4 753.4,107 754,109.2 755,115.5 755.4,118.1 756,121.1 757,127.4 757.6,132.3 758,129.8 759,122.6 759.4,120.5 760,118.2 760.6,114.3 761,117.9 762,122.8 762.4,124.4 763,119.5 763.6,128.3 764,123.4 765,106.7 766,102.8 766.4,99.3 767,98.3 768,89.5 769,86.8 769.6,89.9 770,91.9 771,76.9 772,86.5 772.4,89.4 773,84.8 773.6,78.2 774,77.3 775,70.2 775.6,70.9 776,68.6 777,68.3 777.6,64.4 778,67.7 779,70.4 779.6,78.1 780,77.7 781,68.9 781.4,72.3 782,82.6 783,94.5 783.4,100 784,92.4 785,73.8 786,60.9 786.4,55.9 787,48.3 788,39.1 789,39.3 790,41.4 791,42.7 792,44.9 793,59.4 793.6,66.7 794,80.5 794.4,93.4 795,84.9 795.6,75.7 796,79 797,90.1 798,149.6 798.2,163.6 799,162.5 800,153.6 801,132 802,127.1 802.4,125.7 803,118 804,110.5 805,96.7 805.2,96.8 806,110.9 806.4,117"/>
<polyline class="ln" stroke="#ff00ff" points="135.5,540.5 136,540.5 137,540.5 138,540.5 139,540.5 140,540.5 141,540.5 142,540.5 143,540.5 144,540.5 145,540.5 146,540.5 147,540.5 148,540.5 149,540.5 150,540.5 151,540.5 152,540.5 153,540.5 154,540.5 155,540.5 156,540.5 157,540.5 158,540.5 159,540.5 160,540.5 161,540.5 162,540.5 163,540.5 164,540.5 165,540.5 166,540.5 167,540.5 168,540.5 169,540.5 170,540.5 171,540.5 172,540.5 173,540.5 174,540.5 175,540.5 176,540.5 177,540.5 178,540.5 179,540.5 180,540.5 181,540.5 182,540.5 183,540.5 184,540.5 185,540.5 186,540.5 187,540.5 188,540.5 189,540.5 190,540.5 191,540.5 192,540.5 193,540.5 194,540.5 195,540.5 196,540.5 197,540.5 198,540.5 199,540.5 200,540.5 201,540.5 202,540.5 203,540.5 204,540.5 205,540.5 206,540.5 207,540.5 208,540.5 209,540.5 210,540.5 211,540.5 212,540.5 213,540.5 214,540.5 215,540.5 216,540.5 217,540.5 218,540.5 219,540.5 220,540.5 221,540.5 222,540.5 223,540.5 224,540.5 225,540.5 226,540.5 227,540.5 228,540.5 229,540.5 230,540.5 231,540.5 232,540.5 233,540.5 234,540.5 235,540.5 236,540.5 237,540.5 238,540.5 239,540.5 240,540.5 241,540.5 242,540.5 243,540.5 244,540.5 245,540.5 246,539.4 247,538.3 247.5,537.7 248,537.1 249,536.1 250,534.9 251,533.5 252,533.7 252.5,533.4 253,532.6 253.1,532.7 253.5,532.6 254,534 254.5,534.8 255,535.4 255.2,536.6 255.5,538 256,540.4 256.5,543.5 257,546.6 257.3,547.5 257.5,547.6 258,550.8 258.5,549.7 259,551.2 259.4,550.7 259.5,550.8 260,550.7 260.5,545.9 261,545.4 261.5,546.1 262,548.6 262.5,552.9 263,552.8 263.5,555.1 263.6,554.1 264,557.3 264.5,560.4 265,562.8 265.5,564.8 265.7,565.9 266,569.5 266.5,572.8 267,579.7 267.1,580.2 267.5,579.6 268,581 268.5,583.8 269,582.9 269.2,582.8 269.5,583 270,584.4 270.5,583.9 271,583.2 271.3,584 271.5,584.3 272,585.5 272.5,586.5 273,585.8 273.4,587.4 273.5,588.2 274,588.4 274.5,586.5 275,585.7 275.5,584.5 276,585.5 276.2,584.5 276.5,584.7 277,587 277.5,587.6 278,588.7 278.5,591.3 279,592.9 279.5,592.4 280,590.9 280.5,591.5 281,590.6 281.5,590.2 281.8,590.2 282,591 282.5,590.5 283,588.5 283.5,590.1 283.9,587.8 284,588.4 284.5,589.1 285,588.3 285.5,589 286,588.9 286.5,589.2 287,588.3 287.5,584.5 288,581.9 288.5,579.9 288.8,581.4 289,581.9 289.5,581.9 290,582.8 290.5,583.4 291,584.3 291.5,584.1 291.6,584.9 292,584.2 292.5,582 293,582 293.5,581.7 294,581.1 294.4,579.8 294.5,579.9 295,579.8 295.5,581.3 296,581.7 296.5,584.3 297,584.9 297.2,584.5 297.5,584.2 298,583.2 298.5,582.5 299,581.9 299.5,582.1 300,582.6 300.5,583.4 301,583.9 301.5,585.7 302,583.7 302.5,583.9 302.8,585.1 303,586.6 303.5,582.2 304,581.7 304.5,581.8 305,581.4 305.5,581.1 305.6,580.7 306,580.7 306.5,581.5 307,581.7 307.5,582.8 308,580.7 308.4,582 308.5,581.3 309,583 309.5,583.1 310,583.6 310.5,585.9 311,585.9 311.2,586.6 311.5,587.6 312,588.7 312.5,589.1 313,589.8 313.3,589.7 313.5,589.5 314,587.7 314.5,588 315,588.1 315.4,587.3 315.5,586.8 316,585.5 316.5,584.8 317,582.1 317.5,581.3 318,582.2 318.5,579.7 319,578.9 319.5,577.8 319.6,577.7 320,578.5 320.5,577.3 321,577 321.5,575.1 322,574.6 322.4,574.2 322.5,574.1 323,572.1 323.5,573.8 324,573.6 324.5,571 325,571.8 325.2,571.5 325.5,571.1 326,571.2 326.5,570.8 327,569 327.5,569.1 328,569.7 328.5,568.6 329,567.2 329.5,566.1 330,565.4 330.5,565.9 330.8,566.3 331,566.8 331.5,565.8 332,565 332.5,565.9 333,563.8 333.5,562.7 333.6,562.8 334,563 334.5,563 335,561.8 335.5,561.1 336,561.7 336.4,561.6 336.5,561.6 337,560.2 337.5,560.1 338,559.5 338.5,559.6 339,559 339.2,558.8 339.5,558.4 340,557.6 341,557.6 342,555.5 343,555.6 344,556.9 344.1,556.4 345,554.8 346,552.7 346.2,552.9 347,554.9 348,557.4 348.3,558.3 349,559.3 350,560.8 350.4,561.7 351,561.9 352,562.5 353,562.3 353.2,562.8 354,561.2 355,558.4 355.3,557.3 356,555.6 357,552.8 357.4,552.3 358,550.9 359,549.2 359.5,548.5 360,546.8 361,546.1 362,546 363,545.5 364,544.3 365,545.6 366,544.7 367,545.2 368,546.2 369,545 370,542.7 371,540.9 372,540 373,538.2 374,537 375,535.2 376,532.7 377,534.8 378,536 379,535.9 380,538.2 381,537 382,534.4 383,534 384,532.2 385,530.5 386,528 387,525.7 388,528.9 389,530 390,532.1 391,534.5 392,531.9 393,528.1 394,525 395,526.2 396,523.4 397,522.8 398,524.4 399,525.3 400,526.2 401,526.7 402,527.3 403,528.7 404,529.5 405,530.2 406,529.7 407,526.9 408,528.2 409,524.9 410,524.2 411,522 412,520.3 413,518.4 413.6,517.6 414,518.1 415,519 416,520.9 417,521.7 418,524.3 419,526.8 420,530.4 421,532 422,529.1 423,529.3 424,528.5 425,527 426,524.6 427,525.2 428,523.4 429,522.2 430,522.5 431,521.7 432,521 433,519.9 434,519.9 435,517.8 436,517.6 437,517.2 438,516.2 439,515.1 440,514.5 441,513 442,512.3 443,512.7 444,512 445,510.8 446,510.7 447,510.7 447.4,510.4 448,510.6 449,511.3 450,513 451,513.9 452,517.4 453,516.6 454,519 455,521.5 456,520.6 457,521.7 458,523.9 459,524.3 460,522.2 461,522.8 462,521.9 463,520.5 464,516.7 465,516.2 466,519.1 467,520.1 468,524.5 469,524.9 470,524.3 471,523.2 472,521.3 473,520 474,517.5 475,517.8 476,516.3 477,514.8 478,514.5 479,513.3 480,512.8 480.6,512.1 481,512.5 482,513.4 483,513.3 484,514.7 485,515.2 486,516.6 487,518.1 488,520.4 489,517.7 490,516.1 491,513.2 492,511.8 493,511.7 494,511.4 495,509.8 496,508.9 497,507.5 498,505.8 499,504.4 500,504.1 501,503.8 502,499.9 503,498.9 504,496.5 505,497 506,496.9 507,496.3 508,496.1 509,494.6 510,492.5 511,488.7 512,488.7 513,486.8 514,487.9 515,489.1 516,488.5 517,489.1 518,488.2 519,484.9 520,483.5 521,480.3 522,481.8 523,479.7 524,478.8 525,478.4 526,476.2 527,475.8 528,475 529,474.1 530,471.5 531,470.5 532,471.3 533,471.2 534,470.2 535,468.4 536,470.4 537,470 538,469.8 539,468.7 540,467.5 541,466 542,463.4 543,463.5 544,461.4 544.4,460.3 545,462 546,463.3 547,462.1 548,464.5 549,466.4 550,469.7 551,471.9 552,471.9 553,473.7 554,469.4 555,467.9 556,463.6 557,462 558,460.1 559,457.7 560,460.4 561,462.2 562,465.8 563,464.4 564,463.7 565,461.1 566,460.1 567,459.9 568,462.8 569,464.7 570,467.9 571,468.9 572,470.1 573,473 574,470.2 575,469.3 576,466.1 577,467.9 578,470.1 579,471.7 580,473.9 581,475.3 582,476.9 583,475.1 584,473.8 585,475.7 586,471.7 587,470.6 588,469 589,469.8 590,467 591,465.7 592,463.6 593,461.9 594,459.3 594.4,458.5 595,459.7 596,463.8 597,465.7 598,474.1 599,480.4 600,487 601,490.1 602,486.3 603,482.4 604,483.7 605,487.6 606,485.3 607,482.8 608,479.8 609,482.8 610,483.9 611,486 612,486.1 613,484.3 614,491.6 615,497.6 616,502.1 617,507.1 618,512.1 619,506.1 620,500.1 621,496.9 622,493.5 623,489.4 624,485.6 625,480.1 626,476.1 627,476.1 628,475 629,475.1 630,474.7 631,476 632,477 633,479.6 634,484.3 635,488 636,483.1 637,479 637.4,475.9 638,475.3 639,478.2 640,478.6 641,482.6 642,485.7 642.4,488.1 643,487.8 644,484.8 645,483 646,481.8 647,480 648,478.3 649,476.5 650,474.5 651,472.9 652,472.1 653,470.8 654,469.9 655,470.5 656,469.9 657,467.6 658,467.3 659,463.7 660,462 661,461.7 662,459.6 663,457 664,456.9 665,457.9 666,461.4 667,462.7 668,463.7 669,460.9 670,461.6 671,463 672,464.2 673,466.1 674,466.4 675,467.8 676,470.4 677,471.9 678,471.8 679,473.6 680,474.4 681,474.8 682,476.9 683,474.8 684,469.1 685,469.3 686,472.3 687,475.2 688,476.4 689,477.7 690,479.9 691,484.1 692,483.4 693,487.1 694,487.8 695,489.2 696,487.3 697,486 698,486.5 699,483.7 700,483.9 701,485.7 702,488.1 703,488.1 704,485.4 705,483.8 706,480.4 707,479.7 708,482.2 709,483 710,482.3 711,478.6 712,477.8 713,478.6 714,478.9 715,478.8 716,476.6 717,476.4 718,473 719,471.9 720,470.2 721,469.6 722,469.5 723,470.7 724,471.1 725,470.7 726,470.2 727,469.2 728,464 729,458.7 730,453.1 731,455.6 732,459.2 733,460.3 734,460.1 735,460 736,461.9 737,461.8 738,461 739,461.2 740,458.8 741,457 742,459.5 743,461.8 744,464.6 745,462.5 746,465 747,462.6 748,463.8 749,465.1 750,468.2 751,466.7 752,467.3 753,465.7 754,463.7 755,464.8 756,465.4 757,465.4 758,465.4 759,464 760,461.4 761,461 762,461.3 763,463.2 764,459.8 765,455.6 766,453 767,454 768,454.6 769,453.4 770,451.6 771,451.4 772,451.5 773,450.3 774,449.3 775,448.9 776,445.3 777,445.2 778,443.3 779,443.6 780,447.2 781,451.7 782,450.3 783,449.2 784,448.2 785,445.1 786,445 787,442.5 788,443.4 789,444.8 790,445.6 791,445.4 792,444.3 793,446.6 794,448.2 795,447.8 796,445.3 797,453.4 798,459.9 799,457.1 800,454.9 801,454 802,450.8 803,450 804,445.3 805,445 806,444.9"/>
<polyline class="ln" stroke="#00ffff" points="135.5,540.5 136,540.5 137,540.5 138,540.5 139,540.5 140,540.5 141,540.5 142,540.5 143,540.5 144,540.5 145,540.5 146,540.5 147,540.5 148,540.5 149,540.5 150,540.5 151,540.5 152,540.5 153,540.5 154,540.5 155,540.5 156,540.5 157,540.5 158,540.5 159,540.5 160,540.5 161,540.5 162,540.5 163,540.5 164,540.5 165,540.5 166,540.5 167,540.5 168,540.5 169,540.5 170,540.5 171,540.5 172,540.5 173,540.5 174,540.5 175,540.5 176,540.5 177,540.5 178,540.5 179,540.5 180,540.5 181,540.5 182,540.5 183,540.5 184,540.5 185,540.5 186,540.5 187,540.5 188,540.5 189,540.5 190,540.5 191,540.5 192,540.5 193,540.5 194,540.5 195,540.5 196,540.5 197,540.5 198,540.5 199,540.5 200,540.5 201,540.5 202,540.5 203,540.5 204,540.5 205,540.5 206,540.5 207,540.5 208,540.5 209,540.5 210,540.5 211,540.5 212,540.5 213,540.5 214,540.5 215,540.5 216,540.5 217,540.5 218,540.5 219,540.5 220,540.5 221,540.5 222,540.5 223,540.5 224,540.5 225,540.5 226,540.5 227,540.5 228,540.5 229,540.5 230,540.5 231,540.5 232,540.5 233,540.5 234,540.5 235,540.5 236,540.5 237,540.5 238,540.5 239,540.5 240,540.5 241,540.5 242,540.5 243,540.5 244,540.5 245,540.5 246,541.1 247,541.7 247.5,541.9 248,541.6 249,541.2 250,540.6 251,539.8 252,539.3 252.5,538.7 253,537.5 253.5,536.3 253.8,536.8 254,536.6 254.5,536.9 255,537 255.5,538.2 255.9,538.9 256,538.7 256.5,539.9 257,541.1 257.5,541.1 258,543 258.5,542 259,542.5 259.5,541.2 260,541.6 260.1,540.6 260.5,537.5 261,538.3 261.5,540 262,541.2 262.5,542 263,543.8 263.5,546.1 264,547.1 264.3,547 264.5,548.8 265,549.9 265.5,550.5 266,552.6 266.4,552.7 266.5,552.3 267,555.9 267.5,555.2 268,557.5 268.5,559.8 269,560.1 269.5,560.4 270,562.3 270.5,562 270.6,561.8 271,562.2 271.5,564.6 272,567 272.5,569 272.7,569 273,567.5 273.5,568.8 274,568.6 274.5,565.9 274.8,564.7 275,565.4 275.5,565.5 276,568.3 276.5,567.5 276.9,568.9 277,569.5 277.5,569.5 278,569.9 278.5,572.3 279,573.5 279.5,574 280,573.6 280.5,575.5 281,575.7 281.1,575.7 281.5,574.2 282,573.4 282.5,570.1 283,569.9 283.5,572.9 284,571.7 284.5,572.5 284.6,571.9 285,570 285.5,568.8 286,565.6 286.5,567.7 286.7,566.3 287,567.2 287.5,563.2 288,560.7 288.5,558.9 288.8,561.1 289,561.8 289.5,562.1 290,563.5 290.5,564.4 290.9,565.7 291,565.4 291.5,563.8 292,564.2 292.5,562.3 293,563.4 293.5,563 294,562.7 294.5,561.2 294.7,560.9 295,560.5 295.5,562.5 296,563.2 296.5,566.5 296.9,566.4 297,567.2 297.5,565.8 298,564.6 298.5,563.7 298.9,563.8 299,563.1 299.5,564.2 300,565.7 300.5,566.9 300.7,566.7 301,567.2 301.5,568.7 302,565.8 302.5,565.4 302.8,566.4 303,568.6 303.5,564.8 304,565.3 304.5,566.7 304.9,567.3 305,567.3 305.5,567.5 306,566.7 306.5,567.1 307,566.6 307.5,568.6 308,567 308.5,568.4 309,570.6 309.1,571.2 309.5,570.9 310,571.6 310.5,574.3 311,574.6 311.2,575.3 311.5,576.8 312,578.6 312.5,579.7 313,581.1 313.3,581.3 313.5,581.4 314,580.3 314.5,581.3 314.7,581.7 315,581.6 315.5,579.9 316,579.1 316.5,578.9 316.8,577.5 317,576.6 317.5,576.5 318,576.8 318.5,573.9 318.9,572.9 319,572.8 319.5,571.5 320,572 320.5,570.4 321,569 321.5,568 322,567.8 322.5,567.6 323,565.6 323.1,566.6 323.5,567.5 324,567.4 324.5,564.6 325,565.5 325.2,565.2 325.5,565.2 326,565.7 326.5,566 327,564.6 327.3,565.6 327.5,564.9 328,565.7 328.5,563.7 329,562.1 329.4,561.7 329.5,560.9 330,561 330.5,562.4 331,564.1 331.5,563.3 332,562.6 332.5,563.2 333,560.8 333.5,559.3 333.6,559.3 334,559.6 334.5,559.7 335,558.5 335.5,557.8 335.7,558.4 336,558.2 336.5,557.9 337,556.2 337.5,556 337.8,555.8 338,555.4 338.5,555.9 339,555.6 339.5,555.4 339.9,555.2 340,554.9 341,554.2 342,551.3 343,553.4 344,556.7 344.1,556.4 345,555.7 346,554.6 346.2,555 347,556.7 348,558.9 348.3,559.7 349,560.5 350,561.6 350.4,562.4 351,562.9 352,564 352.5,564.1 353,563.1 354,562.7 354.6,561.6 355,561 356,558.9 356.7,557.8 357,557.1 358,556.2 358.8,555.3 359,555.2 360,553.8 361,553.1 362,553 363,552.4 364,551.3 365,552.8 366,552.2 367,553 368,554.2 369,553.5 370,551.7 371,550.5 372,550 373,548.4 374,547.4 375,545.9 376,543.7 377,545.5 378,546.5 379,546.2 380,548.2 381,547.7 382,545.8 383,546 384,544.7 385,543.4 386,541.5 387,539.7 388,542.1 389,542.5 390,543.9 391,545.4 392,543.5 393,540.4 394,538 395,539 396,536.4 397,535.8 398,536.1 399,535.8 400,535.4 401,534.7 402,536.1 403,538.2 404,539.8 405,541.1 406,541.3 407,539.4 408,541.2 409,538.9 410,538.8 411,537.3 412,536.2 413,535.1 413.6,534.7 414,535.2 415,536 416,537.9 417,538.7 418,540.6 419,542.3 420,545.1 421,546 422,543.8 423,544.3 424,544 425,543 426,541.2 427,542.1 428,540.9 429,540.1 430,540.4 431,539.6 432,538.9 433,537.9 434,537.9 435,535.9 436,535.6 437,535.2 438,533.9 439,532.6 440,531.7 441,530 442,528.7 443,528.3 444,527 445,525.2 446,524.6 447,523.9 447.4,523.4 448,522.7 449,522.1 450,522.4 451,521.9 452,525.3 453,524.7 454,527 455,529.5 456,528.6 457,529.8 458,531.9 459,532.3 460,530.3 461,530.8 462,529.9 463,528.8 464,525.4 465,525.1 466,527.5 467,528.2 468,531.9 469,531.9 470,531.3 471,530.2 472,528.3 473,527 474,524.8 475,525.3 476,524 477,522.8 478,522.4 479,521.3 480,520.8 480.6,520.1 481,520.2 482,520.5 483,519.9 484,520.7 485,520.5 486,521.2 487,521.9 488,523.4 489,520.9 490,519.6 491,516.9 492,515.8 493,515.7 494,515.4 495,513.8 496,512.9 497,512 498,510.8 499,510 500,510.1 501,511 502,508.4 503,508.7 504,507.6 505,508 506,507.9 507,507.3 508,507 509,506.5 510,505.5 511,502.8 512,503.7 513,502.8 514,503.9 515,505 516,504.5 517,505.1 518,504.8 519,502.4 520,501.7 521,499.4 522,501.2 523,499.7 524,499.3 525,499.3 526,498 527,498.3 528,498.3 529,498.1 530,497.2 531,497.8 532,499.8 533,501.2 534,501 535,500.2 536,502.6 537,503 538,502.4 539,501.1 540,499.6 541,498 542,495.8 543,496 544,494.2 544.4,493.3 545,493.8 546,493.4 547,490.9 548,491.5 549,492 550,493.7 551,495.5 552,495.3 553,496.6 554,493.5 555,492.7 556,489.5 557,488.9 558,488 559,486.7 560,486.8 561,485.9 562,486.7 563,485.7 564,485.2 565,483.1 566,484.3 567,486 568,488 569,489.4 570,491.8 571,493.7 572,493.6 573,495.3 574,495.8 575,495.9 576,494.2 577,493 578,494.8 579,495.7 580,498.1 581,497.6 582,497.1 583,496.4 584,493.7 585,494.3 586,493.3 587,492 588,491.4 589,490.8 590,490 591,490.2 592,488.1 593,487.4 594,485.7 595,484.7 596,487.8 597,488.9 598,492.4 599,498.5 600,503.7 601,501 602,498.6 603,496.4 604,495.4 605,496.4 606,498 607,496.1 608,493.5 609,492.3 610,491.5 611,491.3 612,491.4 613,492.2 614,492.2 615,495.9 616,501.8 617,503 618,504.6 618.4,504.9 619,503 620,499.8 621,496.1 622,493.8 623,490 624,489.1 625,487.1 626,486.6 627,485.2 628,483 629,481.6 630,479.6 631,480 632,480 633,481.6 634,486.3 635,490 636,486 637,482.7 637.4,479.9 638,479.4 639,482.2 640,482.6 641,487.4 642,491.3 642.4,494.1 643,493.6 644,490.2 645,488 646,487.8 647,487 648,486.3 649,486.5 650,486.5 651,486.9 652,486.1 653,484.8 654,483.9 655,485.1 656,485.1 657,483.5 658,484.1 659,481.7 660,481 661,480.6 662,478.6 663,476.1 664,475.9 665,476 666,478.4 667,478.7 668,480.2 669,478.4 670,479.6 671,480.7 672,481.6 673,483.1 674,482.8 675,483.5 676,485.4 677,485.9 678,484.9 679,485.6 680,486.4 681,486.9 682,488.9 683,488.8 684,485.3 685,487.3 686,489.6 687,491.7 688,492.3 689,492.5 690,493.4 691,496.1 692,493.2 693,494.4 694,492.8 695,493.8 696,491.6 697,490 698,490.1 699,487.1 700,486.9 701,488 702,489.7 703,489.1 704,488.4 705,488.8 706,487.4 707,487.4 708,490.6 709,492 710,491.6 711,488.3 712,487.8 713,488.3 714,488.2 715,487.8 716,486 717,486 718,483 719,482.2 720,480.7 721,480.4 722,480.5 723,481.4 724,481.6 725,480.9 726,480.2 727,481.1 728,478 729,476.2 730,474.1 731,474.9 732,476.7 733,476.3 734,475.8 735,475.4 736,476.9 737,477.2 738,476.7 739,477.3 740,477.1 741,477.2 742,476.9 743,478.5 744,480 745,482.3 746,486.5 747,486.8 748,489.7 749,490.4 750,493.1 751,490.8 752,490.3 753,488.7 754,486.9 755,487.8 756,487.8 757,487.1 758,486.5 759,485.7 760,483.8 761,484 762,483.9 763,485.2 764,483.7 765,481.6 766,479 767,479.5 768,479.6 769,479.1 770,478 771,478.3 772,480 773,480.6 774,481.3 775,481.8 776,479.5 777,480.2 778,480 779,481.2 780,482.7 781,481.3 782,480.7 783,480 784,479.7 785,477.6 786,478.1 787,476 788,475.5 789,474.9 790,473.5 791,474.2 792,475.6 793,476.5 794,477.2 795,477.2 796,475.4 797,481.4 798,485.9 799,483.7 800,482 801,481.3 802,478.7 803,477.7 804,473.3 805,472 806,470.9"/>
<polyline class="ln" stroke="#ffc800" points="135.5,540.5 136,540.5 137,540.5 138,540.5 139,540.5 140,540.5 141,540.5 142,540.5 143,540.5 144,540.5 145,540.5 146,540.5 147,540.5 148,540.5 149,540.5 150,540.5 151,540.5 152,540.5 153,540.5 154,540.5 155,540.5 156,540.5 157,540.5 158,540.5 159,540.5 160,540.5 161,540.5 162,540.5 163,540.5 164,540.5 165,540.5 166,540.5 167,540.5 168,540.5 169,540.5 170,540.5 171,540.5 172,540.5 173,540.5 174,540.5 175,540.5 176,540.5 177,540.5 178,540.5 179,540.5 180,540.5 181,540.5 182,540.5 183,540.5 184,540.5 185,540.5 186,540.5 187,540.5 188,540.5 189,540.5 190,540.5 191,540.5 192,540.5 193,540.5 194,540.5 195,540.5 196,540.5 197,540.5 198,540.5 199,540.5 200,540.5 201,540.5 202,540.5 203,540.5 204,540.5 205,540.5 206,540.5 207,540.5 208,540.5 209,540.5 210,540.5 211,540.5 212,540.5 213,540.5 214,540.5 215,540.5 216,540.5 217,540.5 218,540.5 219,540.5 220,540.5 221,540.5 222,540.5 223,540.5 224,540.5 225,540.5 226,540.5 227,540.5 228,540.5 229,540.5 230,540.5 231,540.5 232,540.5 233,540.5 234,540.5 235,540.5 236,540.5 237,540.5 238,540.5 239,540.5 240,540.5 241,540.5 242,540.5 243,540.5 244,540.5 245,540.5 246,539.7 247,538.9 247.5,538.4 248,538.2 249,538.1 250,537.8 251,537.3 252,537.3 252.5,537 253,536 253.5,535 253.8,535.7 254,535.7 254.5,536.5 255,537.1 255.5,538.8 255.9,539.9 256,539.7 256.5,541.3 257,542.9 257.5,543.1 258,545.3 258.5,543.6 259,543.2 259.5,541.1 260,540.7 260.1,539.5 260.5,536.5 261,537.4 261.5,539.3 262,540.6 262.5,541.6 263,543.8 263.5,546.4 264,547.9 264.3,548 264.5,550 265,551.8 265.5,553.1 266,555.9 266.4,556.6 266.5,556.2 267,560.1 267.5,559.8 268,562.3 268.5,565 269,565.3 269.5,565.6 270,567.4 270.5,567.2 270.6,567 271,567.4 271.5,569.8 272,572.1 272.5,574.1 272.7,574.2 273,572.9 273.5,574.5 274,574.5 274.5,572.3 274.8,571.2 275,572.1 275.5,572.6 276,575.6 276.5,575.3 276.9,576.9 277,577.4 277.5,577.1 278,577.2 278.5,579.2 279,580 279.5,580.9 280,580.9 280.5,583 281,583.6 281.1,583.7 281.5,583.4 282,584.1 282.5,583.5 283,581.1 283.2,580.8 283.5,583 284,581.1 284.5,581 285,579.3 285.3,579.3 285.5,579 286,576.6 286.5,579 287,579 287.4,576.3 287.5,575.8 288,574 288.5,572.7 289,574.9 289.5,573.7 290,574.6 290.5,575.4 291,576.5 291.5,576.6 291.6,577.5 292,577.2 292.5,575.4 293,575.9 293.5,576.2 294,576.1 294.4,575.2 294.5,575.2 295,574.8 295.5,576.1 296,576.2 296.5,578.8 297,579.1 297.2,578.5 297.5,578.4 298,577.8 298.5,577.5 299,577.2 299.5,577.8 300,578.7 300.5,579.1 301,579.2 301.5,580.8 302,578.3 302.5,578.1 302.8,579.2 303,580.9 303.5,576.9 304,576.8 304.5,577.4 305,577.6 305.5,577.8 305.6,577.5 306,577.7 306.5,578.8 307,579.2 307.5,580.5 308,578.7 308.4,580.2 308.5,579.5 309,581.5 309.5,581.8 310,582.5 310.5,585.1 311,585.4 311.2,586.2 311.5,587.2 312,588.4 312.5,588.9 313,589.8 313.5,590 314,590.1 314.5,589.2 315,588.8 315.5,587.2 316,586.4 316.1,586.3 316.5,586 317,583.7 317.5,583.5 318,583.7 318.2,582.2 318.5,581.4 319,581 319.5,580.3 320,581.2 320.5,580.2 321,579.4 321.5,578.3 322,577.9 322.5,577.5 323,575.5 323.5,577.2 323.8,576.6 324,577 324.5,574.4 325,575.2 325.5,574.5 326,574.3 326.5,573.9 326.6,573.6 327,572.2 327.5,572.4 328,573.7 328.5,572.3 329,571.4 329.4,571.5 329.5,570.6 330,570 330.5,570.7 331,571.6 331.5,570.6 332,569.8 332.2,569.4 332.5,570.8 333,569 333.5,568.2 334,568.5 334.5,568.5 335,567.6 335.5,566.3 336,566.7 336.5,566.4 337,565 337.5,564.9 337.8,564.8 338,564.4 338.5,564.8 339,564.4 339.5,564.1 340,563.7 340.6,563.8 341,564.1 342,562.3 342.7,560.7 343,561.4 344,564.3 344.8,565 345,565.2 346,565.5 347,566.8 347.6,567.8 348,567.7 349,568.8 350,569.9 350.4,570.7 351,571.2 352,572.3 353,572.7 353.2,573.2 354,572.1 355,570 355.3,569.1 356,568.3 357,566.9 357.4,566.9 358,565.9 359,564.9 359.5,564.5 360,560.8 361,560.1 362,559.9 363,559.4 364,558.2 365,559.5 366,558.7 367,559.3 368,560.2 369,559.4 370,557.7 371,556.5 372,556 373,554.9 374,554.4 375,553.4 376,551.8 377,553.2 378,554 379,553.5 380,555.2 381,554.3 382,552.2 383,552 384,551.1 385,550.4 386,549 387,547.7 388,551.4 389,553.3 390,556 391,553.7 392,550.2 393,546 394,545.6 395,546.6 396,544.2 397,543.8 398,543.9 399,543.3 400,542.7 401,541.7 402,543.1 403,545.2 404,546.7 405,548.1 406,548.6 407,546.9 408,548.9 409,546.9 410,547.2 411,546.2 412,545.6 413,544.8 413.6,544.7 414,545.1 415,545.7 416,547.2 417,547.8 418,549.1 419,550.4 420,552.5 421,553 422,551.3 423,552.3 424,552.5 425,552 426,550.3 427,551.1 428,549.9 429,549.1 430,549.4 431,548.5 432,547.9 433,546.9 434,546.8 435,544.9 436,544.6 437,544.2 438,543.4 439,542.6 440,542.2 441,541 442,540.1 443,540 444,539 445,537.9 446,537.7 447,537.6 447.4,537.4 448,536.6 449,535.7 450,535.7 451,535 452,538.2 453,537.7 454,540 455,542.4 456,541.7 457,542.8 458,544.9 459,545.2 460,543.3 461,543.8 462,542.9 463,541.8 464,538.5 465,538.1 466,540.7 467,541.7 468,545.5 469,545.9 470,546 471,545.6 472,544.6 473,544 474,542.4 475,543.3 476,542.5 477,541.9 478,541.7 479,540.8 480,540.6 480.6,540.1 481,540.3 482,540.9 483,540.7 484,541.8 485,541.6 486,542.3 487,543 488,544.3 489,542.7 490,542.1 491,540.3 492,539.9 493,539.7 494,539.3 495,537.8 496,536.9 497,536.3 498,535.4 499,534.8 500,535.1 501,535.8 502,533.5 503,533.6 504,532.6 505,533.2 506,533.3 507,533.1 508,533 509,533.1 510,532.7 511,530.9 512,532.1 513,531.8 514,532.1 515,532.3 516,531.2 517,531 518,530.7 519,528.4 520,527.6 521,525.5 522,527 523,525.6 524,525.3 525,525.3 526,524.1 527,524.3 528,524.3 529,524.1 530,522.4 531,522 532,522.9 533,523.1 534,522 535,520.4 536,521.6 537,521 538,520.3 539,519.1 540,517.6 541,516 542,513 543,512.1 544,509.5 544.4,508.2 545,508.4 546,507.4 547,504.5 548,504.4 549,506 550,508.8 551,510.1 552,509.6 553,510.5 554,507.8 555,507.3 556,504.5 557,504.2 558,503.7 559,502.7 560,502.7 561,502 562,502.7 563,502.3 564,502.4 565,501.1 566,502 567,503.4 568,505 569,505.8 570,507.5 571,508.8 572,508.7 573,510.3 574,510.8 575,511.1 576,509.8 577,509 578,510.8 579,511.7 580,514.1 581,514 582,513.8 583,513.5 584,510.9 585,511.4 586,510.4 587,509.7 588,509.7 589,509.7 590,508.9 591,509.1 592,507.1 593,506.4 594,504.7 595,503.7 596,507.1 597,508.7 598,512.4 599,518.4 600,523.7 601,520.9 602,518.6 603,516.3 604,515.2 605,515.8 606,517 607,515.8 608,513.9 609,513.3 610,513.2 611,513.6 612,514.4 613,515.6 614,516.2 615,519 616,523.8 617,524.2 618,525 618.4,524.9 619,523.5 620,521 621,518.1 622,516.8 623,514.1 624,514.1 625,512.2 626,511.5 627,510.2 628,508.3 629,507.2 630,505.6 631,506 632,506.1 633,507.7 634,511.8 635,515 636,511.4 637,508.4 637.4,505.9 638,505.3 639,507.5 640,507.7 641,511.2 642,513.9 642.4,516.1 643,516.4 644,514.7 645,514 646,514 647,513.6 648,513.2 649,513.5 650,513.5 651,513.9 652,514.8 653,515.2 654,515.9 655,516.2 656,515.5 657,513.4 658,514.2 659,512.4 660,512 661,511.7 662,510.1 663,508 664,507.9 665,508.5 666,511 667,511.7 668,513.8 669,512.9 670,514.7 671,515.4 672,516 673,517.1 674,516.9 675,517.7 676,519.3 677,520.1 678,519.7 679,520.7 680,521.9 681,522.8 682,524.9 683,525.1 684,522.4 685,524.2 686,526.4 687,528.5 688,529.3 689,529.3 690,529.9 691,532.1 692,529.2 693,529.7 694,527.8 695,528.5 696,526.5 697,525 698,524.9 699,522.2 700,521.9 701,522 702,522.5 703,521.1 704,520.8 705,521.2 706,520.3 707,520.3 708,522.9 709,524 710,524.1 711,521.8 712,521.8 713,522.6 714,522.8 715,522.8 716,521.4 717,521.4 718,519 719,518.4 720,517.4 721,517.2 722,517.4 723,518.1 724,518.3 725,517.7 726,517.1 727,517.2 728,514 729,512.2 730,510.1 731,510.6 732,511.8 733,511.3 734,510.9 735,510.6 736,511.9 737,512.2 738,511.9 739,512.4 740,512.2 741,512.2 742,512 743,513.3 744,514.5 745,516.4 746,519 747,518.3 748,519.7 749,519.5 750,521.1 751,519.9 752,520.2 753,519.5 754,518.5 755,519.9 756,519.7 757,519.1 758,518.6 759,518.1 760,516.7 761,517 762,516.5 763,517.1 764,516.2 765,514.7 766,513.4 767,514.7 768,515.7 769,515.1 770,514.1 771,514.3 772,515.2 773,515.1 774,515.2 775,516.2 776,515 777,516.1 778,515.5 779,516 780,516.8 781,516.1 782,516.1 783,516 784,516 785,514.5 786,515.1 787,513.8 788,513.9 789,514 790,513.2 791,514.3 792,514.2 793,515.4 794,516.2 795,518.5 796,519.4 797,524 798,527.4 799,525.1 800,523.2 801,522.6 802,520.6 803,520.1 804,516.8 805,516.1 806,515.4"/>
<polyline class="ln" stroke="#87ceeb" points="135.5,540.5 136,540.5 137,540.5 138,540.5 139,540.5 140,540.5 141,540.5 142,540.5 143,540.5 144,540.5 145,540.5 146,540.5 147,540.5 148,540.5 149,540.5 150,540.5 151,540.5 152,540.5 153,540.5 154,540.5 155,540.5 156,540.5 157,540.5 158,540.5 159,540.5 160,540.5 161,540.5 162,540.5 163,540.5 164,540.5 165,540.5 166,540.5 167,540.5 168,540.5 169,540.5 170,540.5 171,540.5 172,540.5 173,540.5 174,540.5 175,540.5 176,540.5 177,540.5 178,540.5 179,540.5 180,540.5 181,540.5 182,540.5 183,540.5 184,540.5 185,540.5 186,540.5 187,540.5 188,540.5 189,540.5 190,540.5 191,540.5 192,540.5 193,540.5 194,540.5 195,540.5 196,540.5 197,540.5 198,540.5 199,540.5 200,540.5 201,540.5 202,540.5 203,540.5 204,540.5 205,540.5 206,540.5 207,540.5 208,540.5 209,540.5 210,540.5 211,540.5 212,540.5 213,540.5 214,540.5 215,540.5 216,540.5 217,540.5 218,540.5 219,540.5 220,540.5 221,540.5 222,540.5 223,540.5 224,540.5 225,540.5 226,540.5 227,540.5 228,540.5 229,540.5 230,540.5 231,540.5 232,540.5 233,540.5 234,540.5 235,540.5 236,540.5 237,540.5 238,540.5 239,540.5 240,540.5 241,540.5 242,540.5 243,540.5 244,540.5 245,540.5 246,539.7 247,538.9 247.5,538.4 248,538.1 249,537.7 250,537.1 251,536.3 252,536.3 252.5,536 253,535 253.5,534 253.8,534.7 254,534.7 254.5,535.5 255,536.1 255.5,537.8 255.9,538.9 256,538.7 256.5,540.3 257,541.9 257.5,542.1 258,544.3 258.5,542.6 259,542.2 259.5,540.1 260,539.7 260.1,538.5 260.5,535.5 261,536.4 261.5,538.3 262,539.6 262.5,540.6 263,542.8 263.5,545.4 264,546.9 264.3,547 264.5,549.1 265,550.8 265.5,552.1 266,554.9 266.4,555.6 266.5,555.2 267,559.1 267.5,558.8 268,561.3 268.5,564 269,564.3 269.5,564.6 270,566.5 270.5,566.2 270.6,566 271,566.4 271.5,568.8 272,571.1 272.5,573.1 272.7,573.2 273,571.9 273.5,573.5 274,573.6 274.5,571.3 274.8,570.2 275,571.1 275.5,571.6 276,574.7 276.5,574.3 276.9,575.9 277,576.4 277.5,576.1 278,576.2 278.5,578.2 279,579 279.5,579.9 280,579.9 280.5,582 281,582.6 281.1,582.7 281.5,582.4 282,583.1 282.5,582.5 283,580.1 283.2,579.8 283.5,582 284,580.1 284.5,580 285,578.3 285.3,578.3 285.5,578 286,575.6 286.5,578 287,578 287.4,575.3 287.5,574.8 288,572.9 288.5,571.7 289,573.9 289.5,572.7 290,573.6 290.5,574.4 291,575.5 291.5,575.5 291.6,576.5 292,576.2 292.5,574.4 293,574.9 293.5,575.2 294,575.1 294.4,574.2 294.5,574.2 295,573.8 295.5,575.1 296,575.2 296.5,577.8 297,578.1 297.2,577.5 297.5,577.4 298,576.8 298.5,576.4 299,576.2 299.5,576.7 300,577.7 300.5,578.1 301,578.2 301.5,579.8 302,577.3 302.5,577.1 302.8,578.2 303,579.9 303.5,575.9 304,575.8 304.5,576.4 305,576.6 305.5,576.8 305.6,576.5 306,576.7 306.5,577.8 307,578.2 307.5,579.5 308,577.6 308.4,579.2 308.5,578.5 309,580.5 309.5,580.8 310,581.5 310.5,584.1 311,584.4 311.2,585.2 311.5,586.3 312,587.4 312.5,587.9 313,588.8 313.5,589 314,589.1 314.5,588.2 315,587.8 315.5,586.2 316,585.4 316.1,585.3 316.5,585.1 317,582.7 317.5,582.5 318,582.7 318.2,581.2 318.5,580.3 319,579.7 319.5,578.8 320,579.6 320.5,578.4 321,577.4 321.5,576.3 322,575.9 322.5,575.5 323,573.5 323.5,575.2 323.8,574.6 324,575 324.5,572.4 325,573.2 325.5,572.5 326,572.4 326.5,571.9 326.6,571.6 327,570.1 327.5,570.4 328,571.7 328.5,570.3 329,569.4 329.4,569.5 329.5,568.6 330,568 330.5,568.7 331,569.6 331.5,568.6 332,567.8 332.2,567.4 332.5,568.8 333,567 333.5,566.2 334,566.5 334.5,566.5 335,565.6 335.5,564.3 336,564.7 336.5,564.4 337,563 337.5,562.9 337.8,562.8 338,562.4 338.5,562.8 339,562.4 339.5,562.1 340,561.7 340.6,561.8 341,562.1 342,560.3 342.7,558.7 343,559.4 344,562.3 344.8,563 345,563.2 346,563.5 347,564.8 347.6,565.8 348,565.7 349,566.8 350,567.9 350.4,568.7 351,569.2 352,570.3 353,570.6 353.2,571.2 354,570.1 355,568 355.3,567.1 356,566.3 357,564.9 357.4,564.9 358,563.9 359,562.9 359.5,562.5 360,558.8 361,558.1 362,558 363,557.4 364,556.2 365,557.5 366,556.7 367,557.3 368,558.2 369,557.4 370,555.7 371,554.5 372,554 373,552.9 374,552.4 375,551.4 376,549.8 377,551.2 378,552 379,551.5 380,553.2 381,552.3 382,550.2 383,550 384,549.2 385,548.4 386,547 387,545.7 388,549.5 389,551.3 390,554 391,551.7 392,548.2 393,544 394,543.6 395,544.6 396,542.2 397,541.8 398,541.9 399,541.3 400,540.7 401,539.7 402,541.1 403,543.2 404,544.8 405,546.1 406,546.6 407,544.9 408,546.9 409,544.9 410,545.2 411,544.2 412,543.5 413,542.8 413.6,542.7 414,543.1 415,543.7 416,545.2 417,545.7 418,547.1 419,548.4 420,550.5 421,551 422,549.3 423,550.3 424,550.5 425,550 426,548.2 427,549.1 428,547.9 429,547.1 430,547.4 431,546.6 432,545.9 433,544.9 434,544.8 435,542.9 436,542.6 437,542.2 438,541.4 439,540.6 440,540.2 441,539 442,538 443,538 444,537 445,535.9 446,535.7 447,535.6 447.4,535.4 448,534.6 449,533.7 450,533.7 451,533 452,536.2 453,535.7 454,538 455,540.4 456,539.7 457,540.8 458,542.9 459,543.2 460,541.3 461,541.8 462,540.9 463,539.8 464,536.5 465,536.1 466,538.7 467,539.7 468,543.5 469,543.9 470,544 471,543.6 472,542.6 473,542 474,540.4 475,541.3 476,540.5 477,539.9 478,539.7 479,538.8 480,538.6 480.6,538.1 481,538.3 482,538.9 483,538.7 484,539.8 485,539.6 486,540.3 487,541 488,542.3 489,540.7 490,540.1 491,538.3 492,537.9 493,537.7 494,537.3 495,535.8 496,534.9 497,534.3 498,533.4 499,532.8 500,533.1 501,533.8 502,531.5 503,531.6 504,530.6 505,531.2 506,531.3 507,531.1 508,531 509,531.1 510,530.7 511,528.9 512,530.1 513,529.8 514,530.1 515,530.4 516,529.2 517,529 518,528.7 519,526.4 520,525.7 521,523.5 522,525 523,523.6 524,523.3 525,523.3 526,522.1 527,522.3 528,522.3 529,522.1 530,520.4 531,520 532,520.9 533,521.1 534,520 535,518.4 536,519.6 537,519 538,518.4 539,517.1 540,515.6 541,514 542,511 543,510.1 544,507.5 544.4,506.2 545,506.4 546,505.4 547,502.5 548,502.4 549,504 550,506.8 551,508.1 552,507.6 553,508.6 554,505.8 555,505.3 556,502.5 557,502.2 558,501.7 559,500.7 560,500.7 561,500 562,500.7 563,500.3 564,500.5 565,499.1 566,500 567,501.4 568,503 569,503.8 570,505.5 571,506.8 572,506.7 573,508.3 574,508.8 575,509.1 576,507.8 577,507 578,508.8 579,509.7 580,512.1 581,512 582,511.8 583,511.5 584,508.9 585,509.4 586,508.4 587,507.7 588,507.7 589,507.7 590,506.9 591,507.1 592,505.1 593,504.4 594,502.7 595,501.7 596,505.1 597,506.6 598,510.4 599,516.4 600,521.7 601,518.9 602,516.6 603,514.3 604,513.2 605,513.8 606,515 607,513.8 608,511.9 609,511.3 610,511.2 611,511.6 612,512.4 613,513.6 614,514.2 615,517 616,521.8 617,522.2 618,523 618.4,522.9 619,521.5 620,519 621,516.1 622,514.8 623,512.1 624,512.1 625,510.2 626,509.5 627,508.2 628,506.3 629,505.2 630,503.6 631,504 632,504.1 633,505.7 634,509.8 635,513 636,509.4 637,506.4 637.4,503.9 638,503.3 639,505.5 640,505.7 641,509.2 642,511.9 642.4,514.1 643,514.4 644,512.7 645,512 646,512 647,511.6 648,511.2 649,511.5 650,511.5 651,511.9 652,512.8 653,513.2 654,513.9 655,514.2 656,513.5 657,511.4 658,512.2 659,510.4 660,510 661,509.7 662,508.1 663,506 664,505.9 665,506.5 666,509 667,509.7 668,511.8 669,510.9 670,512.7 671,513.4 672,514 673,515.1 674,514.9 675,515.7 676,517.3 677,518.1 678,517.7 679,518.7 680,519.9 681,520.8 682,522.9 683,523.1 684,520.4 685,522.2 686,524.4 687,526.5 688,527.3 689,527.3 690,527.9 691,530.1 692,527.1 693,527.7 694,525.8 695,526.5 696,524.5 697,523 698,522.9 699,520.2 700,519.9 701,520 702,520.5 703,519.1 704,518.8 705,519.3 706,518.3 707,518.3 708,520.9 709,522 710,522.1 711,519.8 712,519.8 713,520.6 714,520.8 715,520.8 716,519.3 717,519.4 718,517 719,516.4 720,515.4 721,515.2 722,515.4 723,516.1 724,516.3 725,515.8 726,515.1 727,515.2 728,512 729,510.2 730,508.1 731,508.6 732,509.9 733,509.3 734,508.9 735,508.6 736,509.9 737,510.2 738,509.9 739,510.4 740,510.2 741,510.2 742,510 743,511.3 744,512.5 745,514.4 746,517 747,516.3 748,517.7 749,517.5 750,519.1 751,517.9 752,518.2 753,517.5 754,516.5 755,517.9 756,517.7 757,517.1 758,516.6 759,516.1 760,514.7 761,515 762,514.5 763,515.1 764,514.2 765,512.7 766,511.3 767,512.7 768,513.7 769,513.1 770,512.1 771,512.3 772,513.2 773,513.1 774,513.2 775,514.2 776,513 777,514.1 778,513.5 779,514 780,514.8 781,514.1 782,514.1 783,514 784,514 785,512.5 786,513.1 787,511.8 788,511.9 789,512 790,511.2 791,512.3 792,512.2 793,513.4 794,514.2 795,516.6 796,517.5 797,522.3 798,525.9 799,523.7 800,522 801,521.5 802,519.6 803,519.3 804,516.2 805,515.5 806,514.9"/>
<polyline class="ln" stroke="#000000" points="134.4,540 135,539.9 136,539.4 137,539 138,539.5 139,539.9 140,538.7 141,538.4 142,537.2 143,536.3 144,535.9 145,534.8 146,533.9 147,534.5 148,533.6 149,533.6 150,534.4 151,535.3 152,536 153,535.1 154,534.5 155,534.7 156,536.1 157,537.2 158,538.1 159,539 160,539 161,539.5 162,540.3 163,542.2 163.6,543.2 164,542.5 165,540.7 166,539 167,538.2 168,537.4 168.6,537 169,537.7 170,538.1 171,540 172,539.5 173,538.4 173.6,538.2 174,537.9 175,539.3 176,541.9 177,542.9 178,544.3 179,545.8 180,547 181,547.6 182,549.8 183,547.6 184,546.5 185,545.3 186,546.4 187,546.9 188,548.2 189,548 190,547 191,546 192,545.3 193,546.6 194,547 195,548.8 196,549.9 197,551.1 198,550.7 199,552.3 200,551.3 201,549.8 202,548.9 203,548.6 204,547.6 205,547 206,547.7 207,547.3 208,548.2 209,546.9 210,546.6 211,545.2 212,545.3 213,544.4 214,544.3 215,543.2 216,544 217,543.7 218,543.2 219,542.3 219.4,542.8 220,542.9 221,543.3 222,544.6 223,544.5 224,544.4 225,544.6 226,545.5 227,546.2 228,547.8 229,547.6 230,548.2 231,548.9 232,550 232.1,549.8 233,551.2 234,552.7 234.2,552.7 235,553.1 236,554.6 236.3,553.8 237,554.1 238,555.4 238.4,556 239,555.1 240,553.6 240.5,553 241,552.7 242,553.6 242.6,553.9 243,553.2 244,552.6 244.7,551.7 245,552 246,552.6 246.8,552.7 247,552.8 248,552.1 248.9,551.1 249,551.1 250,551.6 251,551.7 252,551.7 252.5,550.8 253,551.6 253.1,551.3 253.5,551.2 254,551.8 254.5,553 255,553.3 255.2,553.3 255.5,552.6 256,553.5 256.5,553.1 257,554.9 257.3,555 257.5,555.2 258,557.3 258.5,559.2 258.7,560.1 259,557.9 259.5,557.5 260,557.6 260.1,556.5 260.5,556 261,556.1 261.5,557.4 262,560.2 262.5,560.3 262.9,562.3 263,562.7 263.5,565.2 264,568.2 264.3,568.4 264.5,568.7 265,572.8 265.5,574.8 265.7,573.8 266,573.1 266.5,573.8 267,576 267.1,576.3 267.5,574.6 268,573.2 268.5,572.6 269,571.4 269.5,570.8 269.9,571.3 270,571.8 270.5,574.5 271,578.1 271.3,580.2 271.5,580.1 272,579 272.5,576.7 272.7,575.8 273,577 273.5,574.3 274,573.9 274.1,573.1 274.5,573.6 275,571.1 275.1,570.3 275.5,573 276,574.4 276.2,575.5 276.5,575.3 277,576.6 277.5,577.7 278,578.4 278.3,578.7 278.5,579.7 279,581 279.5,582 279.7,582.6 280,582.9 280.5,584.6 281,586.4 281.1,586.7 281.5,584.7 282,581.2 282.5,580.1 283,580.4 283.5,579.1 284,577.5 284.5,578 284.6,577.4 285,576.9 285.5,576.4 286,576.9 286.5,575.9 286.7,576.1 287,576.3 287.5,576 288,577.1 288.5,577.4 288.8,577.3 289,577.9 289.5,577.9 290,577.9 290.5,578.1 290.9,578 291,578.5 291.5,576.5 292,575.2 292.5,575.6 293,575.6 293.5,575.1 294,576.5 294.5,575.8 294.7,575.2 295,576.9 295.5,577 296,576.3 296.5,577.7 297,579.3 297.5,579.5 298,579.5 298.5,581.4 298.6,580.9 299,582.2 299.5,580.9 300,581.1 300.5,579.4 300.7,579.2 301,578.5 301.5,577.8 302,580.3 302.5,578.9 302.8,580.1 303,579.7 303.5,580.5 304,581.3 304.5,579.4 304.9,580.9 305,580.3 305.5,579.7 306,581.4 306.5,580.3 307,579.6 307.5,582.1 308,582.4 308.5,583.7 309,584.4 309.1,584.2 309.5,584.8 310,586.5 310.5,586.3 311,586.3 311.2,587.6 311.5,587.5 312,589.4 312.5,589.6 313,591.4 313.3,591.4 313.5,592 314,591.8 314.5,592.7 314.7,592.1 315,591.3 315.5,589.4 316,587.1 316.1,586.8 316.5,586.1 317,585.5 317.5,585.7 318,585.8 318.2,584.6 318.5,585.5 319,584.9 319.5,584.5 320,584.8 320.3,584.5 320.5,584 321,583.6 321.5,582.8 322,582.3 322.4,581.2 322.5,580 323,580.9 323.5,581.6 324,580.4 324.5,581.8 325,581 325.2,580.7 325.5,580 326,580.7 326.5,579.2 327,580.8 327.5,578.9 328,578.6 328.5,579.4 329,579 329.5,578.4 330,577.6 330.5,577.6 330.8,577.7 331,577.6 331.5,577.8 332,575.7 332.5,576.4 333,575.4 333.5,575.1 333.6,575.4 334,575.4 334.5,575.4 335,576.1 335.5,575.2 336,576.1 336.4,576.1 336.5,575.7 337,575.8 337.5,575.8 338,575.1 338.5,575.7 339,576.6 339.2,576 339.5,575.4 340,574.6 341,575.2 342,573.3 343,573.1 344,572.5 344.8,572.9 345,573.3 346,574 347,575.7 347.6,575.8 348,575.7 349,575.2 350,575.3 350.4,575.1 351,575.5 352,576.5 353,577.1 353.2,577.6 354,577.2 355,575.8 355.3,575.7 356,574.6 357,573.6 357.4,572.7 358,572.4 359,571.4 359.5,571.5 360,570.9 361,570.4 362,570.5 363,569.1 364,570 365,570.7 366,571.3 367,571.3 368,571 369,568.8 370,569.5 371,569 372,568 373,566.9 374,567.1 375,566.5 376,566 377,567.1 378,567.5 379,568.3 380,568 381,568.5 382,566.7 383,565.9 384,565.4 385,565.7 386,564.3 387,564 388,564.8 389,566.1 390,566.6 391,568.1 392,566.2 393,566.5 394,565.6 395,563.8 396,564.2 397,563.7 398,563.8 399,563.5 400,563.5 401,563.1 402,562.9 403,563.1 404,563 405,561.9 406,562.4 407,561.8 408,561.5 409,561.2 410,560.6 411,561.1 412,560.4 413,560 414,560.1 415,560 416,561.2 417,561.8 418,562.8 419,564 420,564.6 421,564.4 422,565.5 423,565.7 424,565 425,565 426,564.1 427,563 428,562.9 429,562.5 430,562.7 431,561.7 432,561.1 433,561.2 434,561 435,560.1 436,559.8 437,559.2 438,559.7 439,559 440,558.3 441,558.8 442,558 443,556.9 444,556.8 445,557.1 446,557 447,557.2 447.4,557.5 448,558 449,558.6 450,559.4 451,560.1 452,561.4 453,562.3 454,564.1 455,564.5 456,565.2 457,565.7 458,566 459,566.4 460,565.5 461,564.9 462,565 463,564.6 464,565.1 465,564.1 466,566 467,566.6 468,568.1 469,569.5 470,568.8 471,567.6 472,566.3 473,565.8 474,565.6 475,564.8 476,565.2 477,564 478,564.5 479,563.8 480,562.8 480.6,563 481,563.2 482,564.4 483,563.8 484,564.9 485,565.6 486,566.3 487,567.8 488,567.8 489,566.4 490,565.6 491,564 492,564 493,563.3 494,562.4 495,562 496,560.9 497,560.4 498,560.6 499,560.6 500,559.7 501,560.5 502,560 503,560.2 504,558.9 505,558.6 506,558.1 507,558 508,558.1 509,557.8 510,556.7 511,555.9 512,556 513,556.8 514,557.5 515,558 516,558.1 517,556.9 518,557.3 519,555.9 520,555.8 521,555.6 522,554.6 523,554.5 524,554.1 525,554.1 526,553.9 527,552.9 528,553.2 529,552.9 530,552.2 531,552.3 532,551.9 533,551.1 534,551.6 535,551.6 536,551.1 537,550.4 538,549.7 539,549.3 540,548.6 541,548.4 542,548.4 543,548 544,548 545,547.9 546,548.1 547,548 548,549 549,549 550,550 551,550.9 552,552.1 553,553 554,552.1 555,551.2 556,551.1 557,551 558,550.2 559,549.9 560,549.8 561,550.5 562,549.3 563,549.6 564,549.7 565,550 566,549.2 567,548 568,546.9 569,547.7 570,547.4 571,547.9 572,548.8 573,548.2 574,549.1 575,548.2 576,549.3 577,549 578,549.9 579,550.5 580,551.1 581,551.7 582,550.8 583,552 584,551.2 585,551.4 586,551 587,550 588,549.6 589,547.8 590,548.2 591,549.8 592,548.8 593,548.4 594,548.5 595,548.3 596,549.6 597,551.9 597.4,552 598,554.6 599,559.7 599.6,562.2 600,561.8 601,559.3 602,557 603,558.6 604,560.2 605,558.4 606,557.2 607,556.7 608,557.1 609,558.1 610,557.1 611,557.4 612,557.2 613,558.2 614,559.1 615,560.1 616,560.7 617,561.8 618,563.5 619,561.1 620,557.9 621,557.2 622,557.4 623,556.1 624,554.6 625,554.4 626,553 627,553.6 628,553.7 629,553.9 630,553.7 631,554.2 632,554.8 633,555.7 634,557.3 635,559.1 636,557.1 637,554.2 637.4,554.2 638,553.7 639,554.4 640,554.6 641,555 642,556.6 643,555.9 644,556.6 645,554.4 646,553.8 647,553.7 648,553.3 649,552.2 650,552 651,550.8 652,550.8 653,550.4 654,549.7 655,549 656,548.5 657,548.5 658,548.1 659,547.4 660,546.6 661,546.6 662,546.5 663,546.1 664,546.2 665,545.9 666,546.7 667,547.2 668,546.4 669,545.6 670,544.8 671,544.2 672,545.7 673,543.8 674,542.8 675,543.5 676,543.9 677,544 678,545.2 679,545.4 680,545.6 681,545.8 682,546 683,546 684,545.3 685,545.3 686,546.9 687,547.4 688,548.1 689,548.7 690,549.2 691,549.9 692,550 693,550 694,550.2 695,551.1 696,552 697,551.1 698,549.9 699,549 700,548 701,547.4 702,547 703,547.3 704,548.3 705,548.1 706,547.6 707,546.5 708,545.9 709,547.4 710,546 711,546.9 712,546.2 713,546 714,544.9 715,544 716,544.1 717,543.9 718,543.6 719,544 720,543.9 721,542.9 722,542.8 723,543 724,543.7 725,543.3 726,543.9 727,543.3 728,541.6 729,540.9 730,540.4 731,540.1 732,539.8 733,540.2 734,540.7 735,540.9 736,540.8 737,540 738,539.7 739,541.1 740,541.8 741,542.1 742,542 743,542.6 744,543.2 745,544 746,545 747,545.2 748,545.9 749,546 750,547.1 751,546.5 752,545.1 753,544.9 754,543.9 755,544 756,544.1 757,542.9 758,543 759,542.4 760,542 761,541.8 762,542.5 763,544 764,542 765,541 766,540.8 767,540.4 768,539.9 769,538.3 770,539.1 771,537.9 772,538.4 773,537.6 774,536.9 775,536.7 776,536 777,537 778,536.3 779,535.8 780,537.1 781,537.8 782,537.6 783,536.7 784,535.8 785,535.6 786,534.5 787,534 788,534.5 789,533.7 790,533.8 791,533.7 792,533.2 793,532.9 794,532.1 795,531.9 796,532 797,533.1 798,534.8 799,533.7 800,533.1 801,531.7 802,531.1 803,530.9 804,529.9 805,529.8 806,529.6"/>
<path class="ax" d="M134.5,38.5 V597.5"/>
<path class="ax" d="M124,597.5 H807"/>
<path class="ax" d="M124,38.5 H134.5"/>
<path class="ax" d="M124,150.3 H134.5"/>
<path class="ax" d="M124,262.1 H134.5"/>
<path class="ax" d="M124,373.9 H134.5"/>
<path class="ax" d="M124,485.7 H134.5"/>
<path class="ax" d="M135.5,597.5 V605.5"/>
<path class="ax" d="M228.95,597.5 V605.5"/>
<path class="ax" d="M322.4,597.5 V605.5"/>
<path class="ax" d="M415.85,597.5 V605.5"/>
<path class="ax" d="M509.3,597.5 V605.5"/>
<path class="ax" d="M602.75,597.5 V605.5"/>
<path class="ax" d="M696.2,597.5 V605.5"/>
<path class="ax" d="M789.65,597.5 V605.5"/>
<text class="yl" transform="translate(120,45) scale(0.961,1)">623,478</text>
<text class="yl" transform="translate(120,156.8) scale(0.961,1)">506,819</text>
<text class="yl" transform="translate(120,268.6) scale(0.961,1)">390,160</text>
<text class="yl" transform="translate(120,380.4) scale(0.961,1)">273,501</text>
<text class="yl" transform="translate(120,492.2) scale(0.961,1)">156,841</text>
<text class="yl" transform="translate(121.5,604) scale(0.961,1)">40,182</text>
<text class="xl" transform="translate(129.5,612.5) rotate(90) scale(0.961,1)">8/28/2007</text>
<text class="xl" transform="translate(222.95,612.5) rotate(90) scale(0.961,1)">6/13/2008</text>
<text class="xl" transform="translate(316.4,612.5) rotate(90) scale(0.961,1)">3/31/2009</text>
<text class="xl" transform="translate(409.85,612.5) rotate(90) scale(0.961,1)">1/14/2010</text>
<text class="xl" transform="translate(503.3,612.5) rotate(90) scale(0.961,1)">10/29/2010</text>
<text class="xl" transform="translate(596.75,612.5) rotate(90) scale(0.961,1)">8/16/2011</text>
<text class="xl" transform="translate(690.2,612.5) rotate(90) scale(0.961,1)">6/1/2012</text>
<text class="xl" transform="translate(783.65,612.5) rotate(90) scale(0.961,1)">3/21/2013</text>
<path class="lg" stroke="#ff0000" d="M846,60 H878"/>
<text class="lt" x="885.5" y="64.7">MINVAR</text>
<path class="lg" stroke="#00ff00" d="M846,80 H878"/>
<text class="lt" x="885.5" y="84.7">EWMA</text>
<path class="lg" stroke="#0000ff" d="M846,100 H878"/>
<text class="lt" x="885.5" y="104.7">RES</text>
<path class="lg" stroke="#000080" d="M846,120 H878"/>
<text class="lt" x="885.5" y="124.7">MP</text>
<path class="lg" stroke="#ff00ff" d="M846,140 H878"/>
<text class="lt" x="885.5" y="144.7">RESMP</text>
<path class="lg" stroke="#00ffff" d="M846,160 H878"/>
<text class="lt" x="885.5" y="164.7">DK</text>
<path class="lg" stroke="#ffc800" d="M846,180 H878"/>
<text class="lt" x="885.5" y="184.7">LW</text>
<path class="lg" stroke="#87ceeb" d="M846,200 H878"/>
<text class="lt" x="885.5" y="204.7">SS</text>
<path class="lg" stroke="#000000" d="M846,220 H878"/>
<text class="lt" x="885.5" y="224.7">^GSPC</text>
</svg>
</body>
</html>
